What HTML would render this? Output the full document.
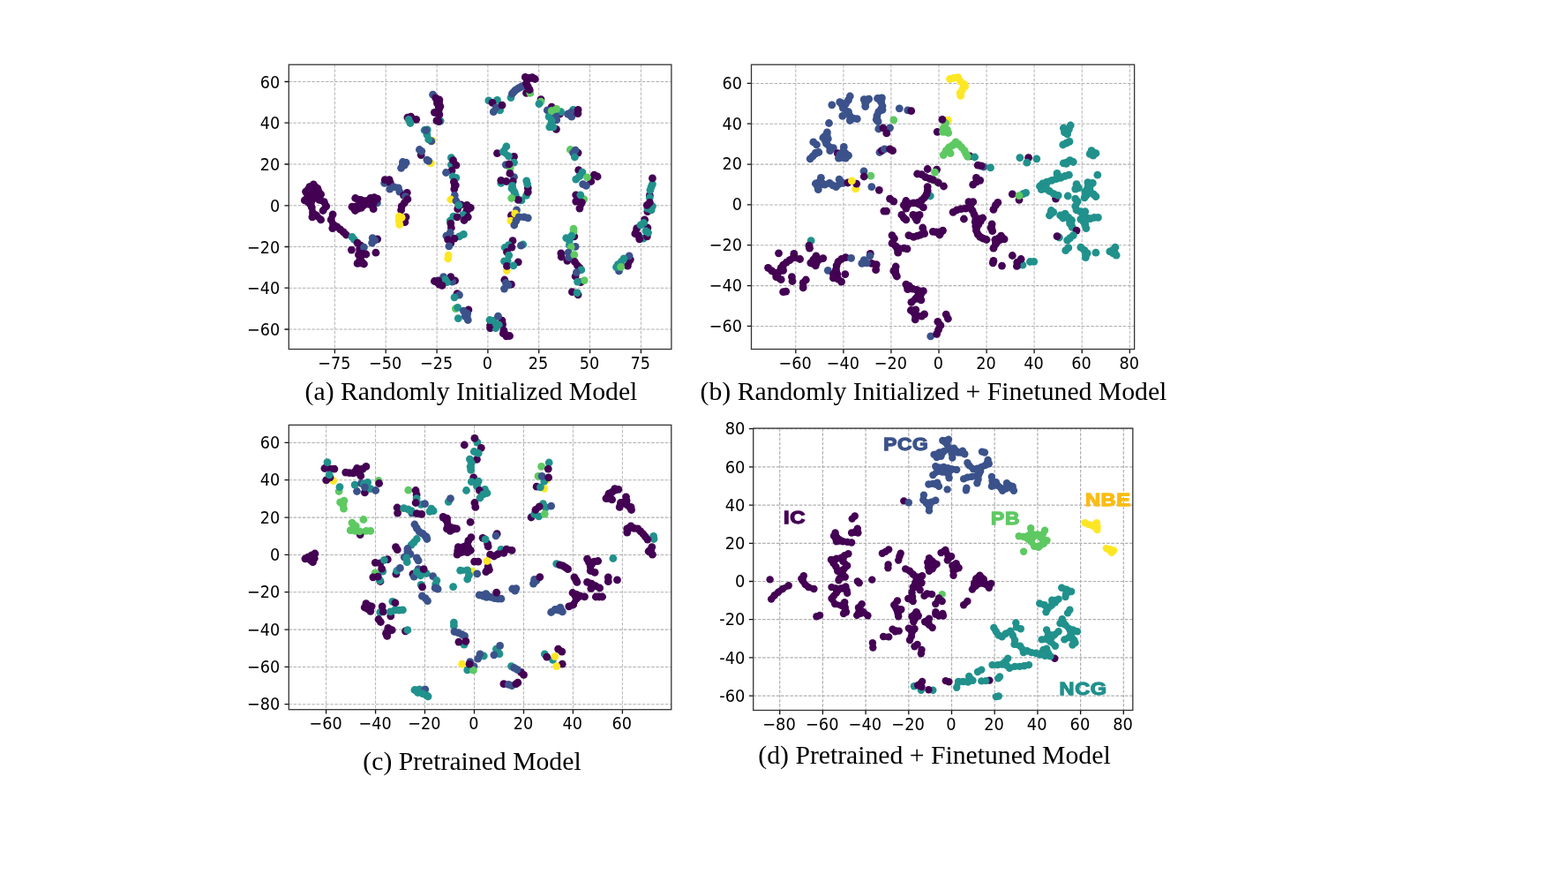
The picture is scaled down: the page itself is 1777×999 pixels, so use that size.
<!DOCTYPE html>
<html lang="en"><head><meta charset="utf-8"><title>t-SNE visualisation</title>
<style>
html,body{margin:0;padding:0;background:#fff;}
body{width:1777px;height:999px;overflow:hidden;}
svg{display:block;}
.grid{fill:none;stroke:#b0b0b0;stroke-width:1.05;stroke-dasharray:3.6 1.6;}
.gv{stroke-width:0.95;}
.tick{fill:none;stroke:#111;stroke-width:1.3;}
.frame{fill:none;stroke:#333;stroke-width:1.3;}
.tl text{font-family:"DejaVu Sans","Liberation Sans",sans-serif;fill:#000;}
.cap text{font-family:"Liberation Serif","Times New Roman",serif;font-size:29.7px;fill:#000;}
.lab text{font-family:"Liberation Sans",Arial,sans-serif;font-weight:bold;font-size:21px;stroke-width:1.3;stroke-linejoin:miter;letter-spacing:0.6px;}
</style></head><body>
<svg width="1777" height="999" viewBox="0 0 1777 999">
<rect width="1777" height="999" fill="#fff"/>
<g class="panel" id="panel-a">
<path d="M379.4 73.2V395.5M437.2 73.2V395.5M495.1 73.2V395.5M552.9 73.2V395.5M610.7 73.2V395.5M668.6 73.2V395.5M726.4 73.2V395.5" class="grid gv"/>
<path d="M327.3 92.5H760.9M327.3 139.2H760.9M327.3 186.0H760.9M327.3 232.8H760.9M327.3 279.5H760.9M327.3 326.2H760.9M327.3 373.0H760.9" class="grid gh"/>
<g class="pts">
<g fill="#21918c"><circle cx="499.2" cy="137.1" r="4.40"/></g>
<g fill="#3b528b"><circle cx="490.6" cy="107.2" r="4.40"/></g>
<g fill="#440154"><circle cx="493.7" cy="110.9" r="4.40"/><circle cx="494.6" cy="113.9" r="3.61"/><circle cx="497.9" cy="113.0" r="4.40"/><circle cx="498.4" cy="116.8" r="3.61"/><circle cx="495.5" cy="117.0" r="4.40"/><circle cx="497.2" cy="118.8" r="3.61"/><circle cx="496.4" cy="120.6" r="3.61"/><circle cx="498.9" cy="120.6" r="4.40"/><circle cx="497.3" cy="124.3" r="4.40"/><circle cx="494.9" cy="125.8" r="3.61"/><circle cx="497.6" cy="127.0" r="3.61"/><circle cx="492.4" cy="127.3" r="4.40"/><circle cx="495.2" cy="128.6" r="3.61"/><circle cx="497.9" cy="129.8" r="4.40"/><circle cx="494.9" cy="136.7" r="4.40"/><circle cx="497.3" cy="137.7" r="4.40"/><circle cx="461.9" cy="133.1" r="4.40"/><circle cx="465.6" cy="132.2" r="4.40"/><circle cx="471.7" cy="135.3" r="4.40"/></g>
<g fill="#21918c"><circle cx="463.1" cy="135.3" r="4.40"/><circle cx="465.0" cy="139.5" r="4.40"/><circle cx="481.1" cy="147.5" r="4.40"/><circle cx="484.3" cy="146.9" r="4.40"/><circle cx="483.9" cy="152.4" r="4.40"/></g>
<g fill="#3b528b"><circle cx="482.7" cy="147.7" r="4.40"/></g>
<g fill="#fde725"><circle cx="490.1" cy="159.3" r="4.40"/></g>
<g fill="#3b528b"><circle cx="488.8" cy="159.9" r="4.40"/></g>
<g fill="#21918c"><circle cx="485.7" cy="157.9" r="4.40"/></g>
<g fill="#440154"><circle cx="477.2" cy="175.6" r="4.40"/></g>
<g fill="#3b528b"><circle cx="475.4" cy="169.5" r="4.40"/><circle cx="477.8" cy="171.3" r="4.40"/></g>
<g fill="#440154"><circle cx="595.3" cy="87.4" r="4.40"/><circle cx="599.3" cy="87.5" r="3.61"/><circle cx="598.9" cy="88.9" r="4.40"/><circle cx="602.6" cy="89.2" r="3.61"/><circle cx="603.2" cy="87.7" r="4.40"/><circle cx="606.3" cy="89.5" r="4.40"/></g>
<g fill="#21918c"><circle cx="579.0" cy="110.6" r="4.40"/></g>
<g fill="#3b528b"><circle cx="580.4" cy="106.2" r="4.40"/><circle cx="583.3" cy="103.5" r="3.61"/><circle cx="581.9" cy="104.5" r="4.40"/><circle cx="584.0" cy="102.7" r="3.61"/><circle cx="583.7" cy="102.5" r="4.40"/><circle cx="586.1" cy="100.9" r="3.61"/><circle cx="586.1" cy="100.8" r="4.40"/><circle cx="588.6" cy="99.4" r="3.61"/><circle cx="589.8" cy="99.1" r="3.61"/><circle cx="588.6" cy="99.3" r="4.40"/><circle cx="591.0" cy="98.0" r="4.40"/><circle cx="593.5" cy="97.4" r="4.40"/></g>
<g fill="#440154"><circle cx="596.5" cy="94.4" r="4.40"/><circle cx="598.3" cy="98.0" r="4.40"/><circle cx="596.5" cy="105.4" r="4.40"/></g>
<g fill="#5ec962"><circle cx="600.8" cy="105.4" r="4.40"/></g>
<g fill="#440154"><circle cx="600.2" cy="101.7" r="4.40"/></g>
<g fill="#21918c"><circle cx="553.8" cy="113.9" r="4.40"/><circle cx="566.6" cy="124.9" r="4.40"/><circle cx="563.5" cy="113.3" r="4.40"/></g>
<g fill="#440154"><circle cx="558.0" cy="116.3" r="4.40"/></g>
<g fill="#3b528b"><circle cx="562.3" cy="121.8" r="4.40"/><circle cx="559.3" cy="126.7" r="4.40"/></g>
<g fill="#440154"><circle cx="569.0" cy="119.2" r="4.40"/><circle cx="613.0" cy="112.7" r="4.40"/></g>
<g fill="#5ec962"><circle cx="613.0" cy="115.1" r="4.40"/></g>
<g fill="#21918c"><circle cx="610.9" cy="117.6" r="4.40"/></g>
<g fill="#440154"><circle cx="625.2" cy="121.2" r="4.40"/><circle cx="634.4" cy="129.2" r="4.40"/></g>
<g fill="#3b528b"><circle cx="620.3" cy="124.9" r="4.40"/></g>
<g fill="#21918c"><circle cx="635.6" cy="126.7" r="4.40"/></g>
<g fill="#3b528b"><circle cx="630.1" cy="131.6" r="4.40"/><circle cx="630.7" cy="135.9" r="4.40"/></g>
<g fill="#21918c"><circle cx="622.1" cy="132.2" r="4.40"/><circle cx="625.2" cy="136.5" r="4.40"/><circle cx="624.0" cy="140.2" r="3.61"/></g>
<g fill="#5ec962"><circle cx="630.7" cy="123.3" r="4.40"/><circle cx="625.2" cy="125.5" r="4.40"/></g>
<g fill="#440154"><circle cx="630.4" cy="146.3" r="4.40"/></g>
<g fill="#21918c"><circle cx="622.8" cy="143.8" r="4.40"/><circle cx="627.0" cy="143.8" r="4.40"/><circle cx="649.6" cy="124.3" r="4.40"/></g>
<g fill="#3b528b"><circle cx="643.5" cy="129.2" r="4.40"/><circle cx="645.6" cy="130.7" r="3.61"/><circle cx="647.8" cy="132.2" r="4.40"/><circle cx="647.2" cy="127.3" r="4.40"/></g>
<g fill="#440154"><circle cx="655.1" cy="124.3" r="4.40"/><circle cx="654.9" cy="128.6" r="4.40"/><circle cx="563.5" cy="173.7" r="4.40"/><circle cx="582.5" cy="177.4" r="4.40"/></g>
<g fill="#21918c"><circle cx="573.9" cy="165.8" r="4.40"/><circle cx="572.1" cy="168.8" r="3.61"/><circle cx="570.3" cy="171.9" r="4.40"/><circle cx="573.3" cy="174.3" r="3.61"/><circle cx="576.4" cy="176.8" r="4.40"/></g>
<g fill="#5ec962"><circle cx="646.3" cy="169.5" r="4.40"/></g>
<g fill="#440154"><circle cx="655.1" cy="173.1" r="4.40"/></g>
<g fill="#3b528b"><circle cx="652.1" cy="170.1" r="4.40"/><circle cx="649.6" cy="173.1" r="4.40"/></g>
<g fill="#21918c"><circle cx="651.4" cy="178.0" r="4.40"/></g>
<g fill="#fde725"><circle cx="488.4" cy="184.8" r="4.40"/></g>
<g fill="#3b528b"><circle cx="485.7" cy="182.3" r="4.40"/><circle cx="483.9" cy="181.1" r="4.40"/><circle cx="456.4" cy="183.5" r="4.40"/><circle cx="455.5" cy="186.9" r="3.61"/><circle cx="460.1" cy="184.2" r="4.40"/><circle cx="454.6" cy="190.3" r="4.40"/><circle cx="458.3" cy="187.2" r="4.40"/></g>
<g fill="#21918c"><circle cx="511.4" cy="178.7" r="4.40"/><circle cx="511.4" cy="186.6" r="4.40"/></g>
<g fill="#440154"><circle cx="513.6" cy="181.7" r="4.40"/><circle cx="516.9" cy="187.2" r="4.40"/><circle cx="512.0" cy="193.3" r="4.40"/></g>
<g fill="#3b528b"><circle cx="505.5" cy="195.5" r="4.40"/></g>
<g fill="#21918c"><circle cx="513.2" cy="200.0" r="4.40"/><circle cx="516.9" cy="201.3" r="4.40"/></g>
<g fill="#440154"><circle cx="514.4" cy="206.1" r="4.40"/><circle cx="514.6" cy="210.1" r="3.61"/><circle cx="516.3" cy="209.8" r="4.40"/><circle cx="514.8" cy="214.1" r="4.40"/></g>
<g fill="#3b528b"><circle cx="515.3" cy="221.4" r="4.40"/></g>
<g fill="#fde725"><circle cx="510.8" cy="226.0" r="4.40"/></g>
<g fill="#3b528b"><circle cx="516.9" cy="227.5" r="4.40"/></g>
<g fill="#440154"><circle cx="522.4" cy="231.8" r="4.40"/><circle cx="529.1" cy="232.4" r="4.40"/><circle cx="531.2" cy="233.9" r="3.61"/><circle cx="528.8" cy="236.1" r="3.61"/><circle cx="533.3" cy="235.4" r="4.40"/><circle cx="530.9" cy="237.6" r="3.61"/><circle cx="518.7" cy="236.7" r="4.40"/><circle cx="528.5" cy="239.7" r="4.40"/></g>
<g fill="#21918c"><circle cx="519.9" cy="232.4" r="4.40"/><circle cx="513.8" cy="245.2" r="4.40"/><circle cx="524.8" cy="243.4" r="4.40"/><circle cx="510.2" cy="250.1" r="4.40"/></g>
<g fill="#440154"><circle cx="518.1" cy="245.8" r="4.40"/><circle cx="530.3" cy="245.8" r="4.40"/><circle cx="526.0" cy="249.5" r="4.40"/><circle cx="510.8" cy="253.1" r="4.40"/><circle cx="511.4" cy="258.0" r="4.40"/></g>
<g fill="#3b528b"><circle cx="510.2" cy="263.5" r="4.40"/><circle cx="505.9" cy="267.2" r="4.40"/></g>
<g fill="#21918c"><circle cx="520.5" cy="267.8" r="4.40"/><circle cx="523.0" cy="266.6" r="3.61"/><circle cx="525.4" cy="265.4" r="4.40"/></g>
<g fill="#440154"><circle cx="507.7" cy="271.5" r="4.40"/><circle cx="515.0" cy="270.2" r="4.40"/><circle cx="510.8" cy="275.7" r="4.40"/></g>
<g fill="#3b528b"><circle cx="508.9" cy="278.8" r="4.40"/></g>
<g fill="#440154"><circle cx="357.5" cy="218.3" r="4.40"/><circle cx="358.7" cy="215.9" r="3.61"/><circle cx="360.6" cy="219.3" r="3.61"/><circle cx="356.9" cy="221.1" r="3.61"/><circle cx="361.8" cy="226.3" r="4.40"/><circle cx="362.7" cy="223.2" r="3.61"/><circle cx="359.1" cy="225.1" r="3.61"/><circle cx="364.5" cy="227.5" r="3.61"/><circle cx="355.3" cy="208.9" r="4.40"/><circle cx="353.1" cy="210.3" r="3.61"/><circle cx="357.6" cy="211.2" r="3.61"/><circle cx="354.9" cy="212.7" r="3.61"/><circle cx="350.8" cy="211.6" r="4.40"/><circle cx="348.7" cy="214.4" r="3.61"/><circle cx="352.6" cy="214.1" r="3.61"/><circle cx="360.0" cy="213.5" r="4.40"/><circle cx="357.2" cy="215.0" r="3.61"/><circle cx="361.8" cy="216.8" r="3.61"/><circle cx="346.5" cy="217.1" r="4.40"/><circle cx="350.5" cy="216.8" r="3.61"/><circle cx="347.8" cy="219.9" r="3.61"/><circle cx="354.5" cy="216.5" r="4.40"/><circle cx="355.4" cy="220.2" r="3.61"/><circle cx="363.6" cy="220.2" r="4.40"/><circle cx="349.0" cy="222.6" r="4.40"/><circle cx="352.6" cy="223.2" r="3.61"/><circle cx="347.1" cy="224.8" r="3.61"/><circle cx="350.8" cy="225.7" r="3.61"/><circle cx="349.3" cy="226.0" r="3.61"/><circle cx="356.3" cy="223.8" r="4.40"/><circle cx="354.5" cy="226.3" r="3.61"/><circle cx="345.3" cy="226.9" r="4.40"/><circle cx="349.0" cy="227.8" r="3.61"/><circle cx="347.5" cy="228.1" r="3.61"/><circle cx="352.6" cy="228.7" r="4.40"/><circle cx="352.9" cy="231.8" r="3.61"/><circle cx="367.3" cy="228.7" r="4.40"/><circle cx="368.5" cy="231.2" r="3.61"/><circle cx="369.7" cy="233.6" r="4.40"/><circle cx="367.9" cy="236.1" r="3.61"/><circle cx="353.3" cy="234.8" r="4.40"/><circle cx="353.9" cy="237.9" r="3.61"/><circle cx="351.4" cy="232.1" r="3.61"/><circle cx="366.1" cy="238.5" r="4.40"/><circle cx="354.5" cy="240.9" r="4.40"/><circle cx="356.6" cy="242.5" r="3.61"/><circle cx="354.2" cy="243.4" r="3.61"/><circle cx="358.7" cy="244.0" r="4.40"/><circle cx="356.3" cy="244.9" r="3.61"/><circle cx="361.2" cy="246.4" r="3.61"/><circle cx="353.9" cy="245.8" r="4.40"/><circle cx="363.6" cy="248.9" r="4.40"/><circle cx="349.6" cy="229.3" r="4.40"/><circle cx="377.1" cy="242.8" r="4.40"/><circle cx="376.1" cy="245.8" r="3.61"/><circle cx="375.2" cy="248.9" r="4.40"/><circle cx="376.5" cy="251.6" r="3.61"/><circle cx="377.7" cy="254.4" r="4.40"/><circle cx="379.8" cy="255.6" r="3.61"/><circle cx="376.8" cy="258.6" r="4.40"/><circle cx="379.4" cy="257.7" r="3.61"/><circle cx="381.9" cy="256.8" r="4.40"/><circle cx="385.6" cy="259.9" r="4.40"/><circle cx="389.3" cy="262.9" r="4.40"/><circle cx="392.3" cy="266.0" r="4.40"/></g>
<g fill="#21918c"><circle cx="399.0" cy="268.4" r="4.40"/><circle cx="401.5" cy="271.5" r="4.40"/></g>
<g fill="#440154"><circle cx="405.1" cy="275.1" r="4.40"/><circle cx="408.8" cy="278.2" r="4.40"/></g>
<g fill="#3b528b"><circle cx="427.4" cy="229.9" r="4.40"/></g>
<g fill="#440154"><circle cx="402.7" cy="224.5" r="4.40"/><circle cx="405.8" cy="225.4" r="3.61"/><circle cx="408.8" cy="226.3" r="4.40"/><circle cx="407.6" cy="229.3" r="3.61"/><circle cx="412.5" cy="226.9" r="3.61"/><circle cx="411.9" cy="228.7" r="3.61"/><circle cx="399.0" cy="234.2" r="4.40"/><circle cx="400.7" cy="236.4" r="3.61"/><circle cx="402.7" cy="233.3" r="3.61"/><circle cx="402.5" cy="238.5" r="4.40"/><circle cx="404.4" cy="235.4" r="3.61"/><circle cx="405.9" cy="237.0" r="3.61"/><circle cx="406.4" cy="232.4" r="4.40"/><circle cx="408.8" cy="230.9" r="3.61"/><circle cx="411.2" cy="229.3" r="4.40"/><circle cx="410.3" cy="232.4" r="3.61"/><circle cx="413.7" cy="228.4" r="3.61"/><circle cx="409.4" cy="235.4" r="4.40"/><circle cx="412.2" cy="233.3" r="3.61"/><circle cx="416.1" cy="227.5" r="4.40"/><circle cx="419.8" cy="228.4" r="3.61"/><circle cx="418.6" cy="229.9" r="3.61"/><circle cx="419.8" cy="224.5" r="4.40"/><circle cx="424.1" cy="223.6" r="4.40"/><circle cx="427.7" cy="225.1" r="4.40"/><circle cx="423.5" cy="229.3" r="4.40"/><circle cx="421.0" cy="232.4" r="4.40"/><circle cx="418.0" cy="231.8" r="3.61"/><circle cx="423.2" cy="236.7" r="4.40"/><circle cx="414.9" cy="231.2" r="4.40"/></g>
<g fill="#3b528b"><circle cx="435.7" cy="207.4" r="4.40"/></g>
<g fill="#440154"><circle cx="436.3" cy="203.7" r="4.40"/><circle cx="441.2" cy="203.7" r="4.40"/><circle cx="442.4" cy="207.4" r="4.40"/></g>
<g fill="#3b528b"><circle cx="441.8" cy="214.1" r="4.40"/><circle cx="446.0" cy="211.6" r="4.40"/><circle cx="448.8" cy="212.2" r="3.61"/><circle cx="451.5" cy="212.9" r="4.40"/><circle cx="452.8" cy="217.1" r="4.40"/></g>
<g fill="#440154"><circle cx="461.3" cy="218.3" r="4.40"/><circle cx="457.6" cy="221.4" r="4.40"/></g>
<g fill="#3b528b"><circle cx="459.5" cy="222.6" r="4.40"/></g>
<g fill="#440154"><circle cx="461.9" cy="225.7" r="4.40"/><circle cx="458.3" cy="229.9" r="4.40"/><circle cx="455.2" cy="233.6" r="4.40"/><circle cx="454.6" cy="237.9" r="4.40"/><circle cx="460.1" cy="245.8" r="4.40"/><circle cx="458.9" cy="251.7" r="4.40"/></g>
<g fill="#fde725"><circle cx="452.2" cy="245.2" r="4.40"/><circle cx="452.2" cy="247.6" r="3.61"/><circle cx="455.2" cy="246.4" r="4.40"/><circle cx="452.2" cy="250.1" r="4.40"/><circle cx="452.8" cy="254.4" r="4.40"/></g>
<g fill="#440154"><circle cx="427.7" cy="270.8" r="4.40"/></g>
<g fill="#3b528b"><circle cx="422.2" cy="269.6" r="4.40"/><circle cx="424.7" cy="272.1" r="4.40"/><circle cx="421.6" cy="275.1" r="4.40"/></g>
<g fill="#21918c"><circle cx="582.5" cy="184.2" r="4.40"/></g>
<g fill="#5ec962"><circle cx="578.2" cy="190.3" r="4.40"/></g>
<g fill="#3b528b"><circle cx="573.3" cy="186.6" r="4.40"/></g>
<g fill="#440154"><circle cx="577.0" cy="186.0" r="4.40"/></g>
<g fill="#3b528b"><circle cx="582.5" cy="200.6" r="4.40"/></g>
<g fill="#440154"><circle cx="577.9" cy="196.4" r="4.40"/></g>
<g fill="#21918c"><circle cx="567.8" cy="207.4" r="4.40"/></g>
<g fill="#440154"><circle cx="567.8" cy="204.3" r="4.40"/><circle cx="573.9" cy="205.5" r="4.40"/><circle cx="581.2" cy="205.5" r="4.40"/></g>
<g fill="#21918c"><circle cx="580.6" cy="210.4" r="4.40"/><circle cx="581.9" cy="214.1" r="3.61"/><circle cx="580.0" cy="213.5" r="4.40"/><circle cx="581.5" cy="215.6" r="3.61"/><circle cx="583.1" cy="217.7" r="4.40"/><circle cx="584.3" cy="221.4" r="4.40"/><circle cx="591.0" cy="226.9" r="4.40"/></g>
<g fill="#440154"><circle cx="587.3" cy="226.3" r="4.40"/></g>
<g fill="#5ec962"><circle cx="579.7" cy="224.5" r="4.40"/></g>
<g fill="#21918c"><circle cx="596.5" cy="221.4" r="4.40"/></g>
<g fill="#440154"><circle cx="598.3" cy="217.7" r="4.40"/><circle cx="598.3" cy="212.9" r="4.40"/></g>
<g fill="#21918c"><circle cx="597.7" cy="208.6" r="4.40"/><circle cx="596.7" cy="204.9" r="4.40"/></g>
<g fill="#3b528b"><circle cx="585.5" cy="237.9" r="4.40"/></g>
<g fill="#440154"><circle cx="579.4" cy="244.0" r="4.40"/></g>
<g fill="#fde725"><circle cx="578.8" cy="250.1" r="4.40"/><circle cx="583.7" cy="241.9" r="4.40"/></g>
<g fill="#3b528b"><circle cx="588.0" cy="245.8" r="4.40"/><circle cx="591.0" cy="245.8" r="3.61"/><circle cx="594.1" cy="245.8" r="4.40"/><circle cx="598.3" cy="246.8" r="4.40"/><circle cx="584.9" cy="250.1" r="4.40"/><circle cx="582.8" cy="255.0" r="4.40"/></g>
<g fill="#440154"><circle cx="581.0" cy="272.7" r="4.40"/></g>
<g fill="#21918c"><circle cx="576.4" cy="277.6" r="4.40"/><circle cx="592.8" cy="277.0" r="4.40"/></g>
<g fill="#3b528b"><circle cx="590.4" cy="278.2" r="4.40"/></g>
<g fill="#440154"><circle cx="655.7" cy="192.7" r="4.40"/><circle cx="669.8" cy="205.5" r="4.40"/></g>
<g fill="#21918c"><circle cx="652.7" cy="203.1" r="4.40"/><circle cx="654.8" cy="201.3" r="3.61"/><circle cx="660.0" cy="195.1" r="4.40"/><circle cx="656.9" cy="199.4" r="4.40"/></g>
<g fill="#440154"><circle cx="673.4" cy="198.2" r="4.40"/><circle cx="677.1" cy="200.0" r="4.40"/></g>
<g fill="#5ec962"><circle cx="665.5" cy="200.9" r="4.40"/></g>
<g fill="#3b528b"><circle cx="660.6" cy="208.6" r="4.40"/><circle cx="664.3" cy="210.4" r="4.40"/></g>
<g fill="#5ec962"><circle cx="661.8" cy="225.7" r="4.40"/></g>
<g fill="#440154"><circle cx="652.7" cy="220.8" r="4.40"/><circle cx="652.7" cy="228.1" r="4.40"/><circle cx="659.4" cy="229.3" r="4.40"/><circle cx="658.2" cy="232.7" r="3.61"/><circle cx="656.9" cy="236.1" r="4.40"/><circle cx="655.7" cy="225.1" r="4.40"/></g>
<g fill="#21918c"><circle cx="657.8" cy="220.8" r="4.40"/></g>
<g fill="#440154"><circle cx="650.8" cy="267.8" r="4.40"/></g>
<g fill="#5ec962"><circle cx="650.0" cy="259.2" r="4.40"/><circle cx="650.0" cy="262.3" r="4.40"/></g>
<g fill="#21918c"><circle cx="647.8" cy="267.2" r="4.40"/><circle cx="641.7" cy="269.6" r="4.40"/><circle cx="645.3" cy="272.7" r="4.40"/></g>
<g fill="#3b528b"><circle cx="652.1" cy="279.4" r="4.40"/></g>
<g fill="#21918c"><circle cx="645.3" cy="277.6" r="4.40"/></g>
<g fill="#5ec962"><circle cx="647.2" cy="280.0" r="4.40"/></g>
<g fill="#440154"><circle cx="736.3" cy="221.4" r="4.40"/></g>
<g fill="#21918c"><circle cx="736.3" cy="223.8" r="4.40"/><circle cx="739.4" cy="208.6" r="4.40"/><circle cx="738.1" cy="211.9" r="3.61"/><circle cx="738.1" cy="211.6" r="4.40"/><circle cx="736.9" cy="215.3" r="4.40"/></g>
<g fill="#440154"><circle cx="739.4" cy="201.9" r="4.40"/><circle cx="733.9" cy="239.7" r="4.40"/></g>
<g fill="#21918c"><circle cx="739.4" cy="233.6" r="4.40"/><circle cx="738.1" cy="237.9" r="4.40"/><circle cx="733.9" cy="236.1" r="4.40"/></g>
<g fill="#440154"><circle cx="736.3" cy="229.3" r="4.40"/><circle cx="733.3" cy="232.4" r="4.40"/><circle cx="730.6" cy="248.9" r="4.40"/><circle cx="733.9" cy="258.0" r="4.40"/></g>
<g fill="#21918c"><circle cx="729.0" cy="270.2" r="4.40"/></g>
<g fill="#440154"><circle cx="733.3" cy="267.8" r="4.40"/><circle cx="721.7" cy="258.6" r="4.40"/><circle cx="720.7" cy="261.7" r="3.61"/><circle cx="719.8" cy="264.7" r="4.40"/><circle cx="723.5" cy="266.6" r="4.40"/><circle cx="724.7" cy="270.8" r="4.40"/></g>
<g fill="#21918c"><circle cx="729.6" cy="252.5" r="4.40"/><circle cx="725.9" cy="255.0" r="4.40"/><circle cx="732.0" cy="261.7" r="4.40"/><circle cx="734.5" cy="263.5" r="4.40"/></g>
<g fill="#440154"><circle cx="398.4" cy="283.1" r="4.40"/><circle cx="407.6" cy="281.9" r="4.40"/><circle cx="407.0" cy="285.2" r="3.61"/></g>
<g fill="#3b528b"><circle cx="412.5" cy="280.1" r="4.40"/></g>
<g fill="#440154"><circle cx="411.2" cy="287.4" r="4.40"/><circle cx="408.8" cy="288.0" r="3.61"/><circle cx="409.7" cy="290.1" r="3.61"/><circle cx="406.4" cy="288.6" r="4.40"/><circle cx="414.9" cy="288.0" r="4.40"/><circle cx="425.9" cy="286.2" r="4.40"/><circle cx="405.1" cy="298.4" r="4.40"/><circle cx="408.8" cy="298.7" r="3.61"/><circle cx="406.7" cy="295.6" r="3.61"/><circle cx="408.8" cy="297.1" r="4.40"/><circle cx="412.5" cy="299.0" r="4.40"/><circle cx="410.3" cy="295.9" r="3.61"/><circle cx="408.2" cy="292.9" r="4.40"/></g>
<g fill="#fde725"><circle cx="508.1" cy="289.2" r="4.40"/><circle cx="507.7" cy="292.9" r="4.40"/></g>
<g fill="#440154"><circle cx="515.6" cy="317.9" r="4.40"/></g>
<g fill="#3b528b"><circle cx="512.6" cy="319.1" r="4.40"/></g>
<g fill="#440154"><circle cx="510.8" cy="313.6" r="4.40"/></g>
<g fill="#3b528b"><circle cx="502.6" cy="313.6" r="4.40"/></g>
<g fill="#21918c"><circle cx="504.7" cy="316.7" r="4.40"/><circle cx="506.5" cy="319.7" r="4.40"/></g>
<g fill="#440154"><circle cx="492.4" cy="318.5" r="4.40"/><circle cx="495.2" cy="320.3" r="3.61"/><circle cx="496.7" cy="317.9" r="4.40"/><circle cx="497.9" cy="322.2" r="4.40"/><circle cx="501.0" cy="323.4" r="4.40"/><circle cx="518.1" cy="332.6" r="4.40"/></g>
<g fill="#3b528b"><circle cx="520.5" cy="334.1" r="4.40"/></g>
<g fill="#21918c"><circle cx="515.0" cy="336.8" r="4.40"/></g>
<g fill="#5ec962"><circle cx="516.3" cy="349.6" r="4.40"/></g>
<g fill="#21918c"><circle cx="518.7" cy="348.4" r="4.40"/></g>
<g fill="#440154"><circle cx="530.9" cy="350.9" r="4.40"/></g>
<g fill="#3b528b"><circle cx="525.4" cy="352.1" r="4.40"/><circle cx="529.7" cy="355.1" r="4.40"/><circle cx="530.0" cy="358.8" r="3.61"/><circle cx="527.2" cy="358.2" r="4.40"/><circle cx="528.8" cy="360.3" r="3.61"/><circle cx="530.3" cy="362.5" r="4.40"/></g>
<g fill="#21918c"><circle cx="519.3" cy="360.6" r="4.40"/><circle cx="572.3" cy="280.4" r="4.40"/></g>
<g fill="#440154"><circle cx="580.0" cy="280.1" r="4.40"/></g>
<g fill="#fde725"><circle cx="574.3" cy="306.3" r="4.40"/></g>
<g fill="#440154"><circle cx="574.5" cy="285.5" r="4.40"/><circle cx="587.3" cy="296.8" r="4.40"/></g>
<g fill="#21918c"><circle cx="571.5" cy="295.9" r="4.40"/><circle cx="575.1" cy="295.3" r="4.40"/><circle cx="576.7" cy="289.2" r="4.40"/></g>
<g fill="#440154"><circle cx="574.5" cy="301.4" r="4.40"/></g>
<g fill="#21918c"><circle cx="581.9" cy="300.8" r="4.40"/></g>
<g fill="#440154"><circle cx="579.4" cy="322.2" r="4.40"/><circle cx="571.8" cy="317.0" r="4.40"/></g>
<g fill="#3b528b"><circle cx="573.3" cy="320.3" r="4.40"/><circle cx="576.0" cy="322.8" r="4.40"/><circle cx="571.5" cy="327.1" r="4.40"/></g>
<g fill="#440154"><circle cx="569.0" cy="363.1" r="4.40"/><circle cx="569.6" cy="367.4" r="4.40"/><circle cx="555.6" cy="371.6" r="4.40"/></g>
<g fill="#21918c"><circle cx="561.7" cy="371.6" r="4.40"/></g>
<g fill="#440154"><circle cx="555.6" cy="368.6" r="4.40"/></g>
<g fill="#21918c"><circle cx="555.0" cy="362.5" r="4.40"/><circle cx="559.3" cy="363.1" r="4.40"/><circle cx="562.3" cy="367.4" r="4.40"/><circle cx="565.4" cy="368.0" r="4.40"/></g>
<g fill="#3b528b"><circle cx="564.5" cy="358.2" r="4.40"/></g>
<g fill="#440154"><circle cx="570.9" cy="374.1" r="4.40"/><circle cx="572.4" cy="377.4" r="3.61"/><circle cx="570.3" cy="377.7" r="4.40"/><circle cx="573.9" cy="379.1" r="3.61"/><circle cx="573.9" cy="380.8" r="4.40"/><circle cx="577.6" cy="380.5" r="4.40"/><circle cx="635.8" cy="286.8" r="4.40"/><circle cx="636.2" cy="291.0" r="4.40"/><circle cx="642.9" cy="295.3" r="4.40"/></g>
<g fill="#3b528b"><circle cx="644.1" cy="286.2" r="4.40"/><circle cx="644.7" cy="291.7" r="4.40"/></g>
<g fill="#5ec962"><circle cx="650.8" cy="288.6" r="4.40"/></g>
<g fill="#440154"><circle cx="651.4" cy="296.5" r="4.40"/><circle cx="653.0" cy="298.7" r="3.61"/><circle cx="654.5" cy="300.8" r="4.40"/><circle cx="656.9" cy="303.3" r="4.40"/></g>
<g fill="#21918c"><circle cx="658.8" cy="305.7" r="4.40"/></g>
<g fill="#440154"><circle cx="652.1" cy="313.0" r="4.40"/></g>
<g fill="#3b528b"><circle cx="653.3" cy="308.7" r="4.40"/></g>
<g fill="#440154"><circle cx="658.2" cy="319.7" r="4.40"/></g>
<g fill="#5ec962"><circle cx="662.2" cy="317.7" r="4.40"/></g>
<g fill="#21918c"><circle cx="654.5" cy="319.1" r="4.40"/></g>
<g fill="#440154"><circle cx="648.4" cy="330.7" r="4.40"/><circle cx="655.1" cy="333.8" r="4.40"/></g>
<g fill="#21918c"><circle cx="654.1" cy="331.7" r="4.40"/></g>
<g fill="#440154"><circle cx="714.3" cy="294.1" r="4.40"/><circle cx="712.8" cy="297.6" r="3.61"/></g>
<g fill="#3b528b"><circle cx="713.1" cy="289.8" r="4.40"/><circle cx="701.5" cy="306.9" r="4.40"/></g>
<g fill="#440154"><circle cx="711.3" cy="301.2" r="4.40"/></g>
<g fill="#21918c"><circle cx="707.0" cy="292.9" r="4.40"/><circle cx="704.0" cy="296.5" r="4.40"/><circle cx="700.3" cy="299.6" r="4.40"/><circle cx="698.5" cy="302.6" r="4.40"/></g>
<g fill="#5ec962"><circle cx="703.7" cy="302.4" r="4.40"/></g>
</g>
<path d="M379.4 395.5v4.8M437.2 395.5v4.8M495.1 395.5v4.8M552.9 395.5v4.8M610.7 395.5v4.8M668.6 395.5v4.8M726.4 395.5v4.8M327.3 92.5h-4.8M327.3 139.2h-4.8M327.3 186.0h-4.8M327.3 232.8h-4.8M327.3 279.5h-4.8M327.3 326.2h-4.8M327.3 373.0h-4.8" class="tick"/>
<rect x="327.3" y="73.2" width="433.6" height="322.3" class="frame"/>
<g class="tl" font-size="19.4">
<text transform="translate(378.8 417.8) scale(0.91 1)" text-anchor="middle">−75</text>
<text transform="translate(436.6 417.8) scale(0.91 1)" text-anchor="middle">−50</text>
<text transform="translate(494.5 417.8) scale(0.91 1)" text-anchor="middle">−25</text>
<text transform="translate(552.3 417.8) scale(0.91 1)" text-anchor="middle">0</text>
<text transform="translate(610.1 417.8) scale(0.91 1)" text-anchor="middle">25</text>
<text transform="translate(668.0 417.8) scale(0.91 1)" text-anchor="middle">50</text>
<text transform="translate(725.8 417.8) scale(0.91 1)" text-anchor="middle">75</text>
<text transform="translate(317.3 99.7) scale(0.91 1)" text-anchor="end">60</text>
<text transform="translate(317.3 146.4) scale(0.91 1)" text-anchor="end">40</text>
<text transform="translate(317.3 193.2) scale(0.91 1)" text-anchor="end">20</text>
<text transform="translate(317.3 239.9) scale(0.91 1)" text-anchor="end">0</text>
<text transform="translate(317.3 286.7) scale(0.91 1)" text-anchor="end">−20</text>
<text transform="translate(317.3 333.4) scale(0.91 1)" text-anchor="end">−40</text>
<text transform="translate(317.3 380.2) scale(0.91 1)" text-anchor="end">−60</text>
</g></g>
<g class="panel" id="panel-b">
<path d="M901.8 73.2V395.5M955.9 73.2V395.5M1009.9 73.2V395.5M1064.0 73.2V395.5M1118.1 73.2V395.5M1172.1 73.2V395.5M1226.2 73.2V395.5M1280.3 73.2V395.5" class="grid gv"/>
<path d="M851.5 94.4H1285.6M851.5 140.2H1285.6M851.5 186.1H1285.6M851.5 231.9H1285.6M851.5 277.7H1285.6M851.5 323.6H1285.6M851.5 369.4H1285.6" class="grid gh"/>
<g class="pts">
<g fill="#3b528b"><circle cx="942.8" cy="118.8" r="4.40"/><circle cx="951.7" cy="115.7" r="4.40"/><circle cx="955.1" cy="116.7" r="3.61"/><circle cx="953.6" cy="119.1" r="3.61"/><circle cx="963.3" cy="109.0" r="4.40"/><circle cx="961.5" cy="113.3" r="4.40"/><circle cx="960.0" cy="115.4" r="3.61"/><circle cx="958.4" cy="117.6" r="4.40"/><circle cx="956.9" cy="120.0" r="3.61"/><circle cx="955.4" cy="122.5" r="4.40"/><circle cx="958.4" cy="124.6" r="3.61"/><circle cx="961.5" cy="126.7" r="4.40"/><circle cx="962.4" cy="129.2" r="3.61"/><circle cx="954.8" cy="131.4" r="4.40"/><circle cx="963.3" cy="131.6" r="4.40"/><circle cx="963.3" cy="134.1" r="3.61"/><circle cx="967.0" cy="134.1" r="4.40"/><circle cx="971.3" cy="134.7" r="4.40"/><circle cx="963.3" cy="136.5" r="4.40"/><circle cx="979.2" cy="112.7" r="4.40"/><circle cx="982.0" cy="112.4" r="3.61"/><circle cx="979.9" cy="116.7" r="3.61"/><circle cx="984.7" cy="112.1" r="4.40"/><circle cx="982.9" cy="114.2" r="3.61"/><circle cx="980.7" cy="120.6" r="4.40"/><circle cx="981.0" cy="116.3" r="4.40"/><circle cx="994.5" cy="111.5" r="4.40"/><circle cx="996.9" cy="111.2" r="3.61"/><circle cx="996.6" cy="113.6" r="3.61"/><circle cx="999.4" cy="110.9" r="4.40"/><circle cx="999.0" cy="113.3" r="3.61"/><circle cx="998.7" cy="115.7" r="4.40"/><circle cx="1000.0" cy="120.0" r="4.40"/><circle cx="997.8" cy="123.4" r="3.61"/><circle cx="1000.0" cy="124.3" r="4.40"/><circle cx="997.8" cy="125.5" r="3.61"/><circle cx="995.7" cy="126.7" r="4.40"/><circle cx="993.9" cy="131.0" r="4.40"/><circle cx="994.5" cy="134.4" r="3.61"/><circle cx="993.2" cy="135.3" r="4.40"/><circle cx="995.1" cy="137.7" r="4.40"/><circle cx="1019.3" cy="122.8" r="4.40"/><circle cx="1028.7" cy="124.9" r="4.40"/></g>
<g fill="#440154"><circle cx="1032.7" cy="125.7" r="4.40"/></g>
<g fill="#5ec962"><circle cx="1012.8" cy="135.9" r="4.40"/></g>
<g fill="#3b528b"><circle cx="939.5" cy="139.5" r="4.40"/><circle cx="995.7" cy="146.0" r="4.40"/><circle cx="1008.5" cy="144.8" r="4.40"/></g>
<g fill="#440154"><circle cx="1000.9" cy="145.0" r="4.40"/><circle cx="1004.8" cy="150.9" r="4.40"/></g>
<g fill="#3b528b"><circle cx="937.4" cy="149.9" r="4.40"/><circle cx="935.1" cy="153.0" r="3.61"/><circle cx="937.9" cy="153.6" r="3.61"/><circle cx="932.8" cy="156.0" r="4.40"/><circle cx="935.6" cy="156.6" r="3.61"/><circle cx="934.6" cy="159.4" r="3.61"/><circle cx="938.3" cy="157.2" r="4.40"/><circle cx="937.4" cy="160.0" r="3.61"/><circle cx="921.8" cy="160.9" r="4.40"/><circle cx="925.5" cy="164.0" r="4.40"/><circle cx="936.5" cy="162.7" r="4.40"/><circle cx="938.6" cy="164.9" r="3.61"/><circle cx="940.7" cy="167.0" r="4.40"/><circle cx="944.4" cy="167.6" r="4.40"/><circle cx="940.7" cy="170.7" r="4.40"/><circle cx="924.3" cy="173.1" r="4.40"/><circle cx="927.9" cy="172.5" r="4.40"/><circle cx="924.6" cy="174.6" r="3.61"/><circle cx="921.2" cy="176.8" r="4.40"/><circle cx="918.2" cy="179.8" r="4.40"/></g>
<g fill="#440154"><circle cx="949.3" cy="173.7" r="4.40"/></g>
<g fill="#3b528b"><circle cx="956.3" cy="166.4" r="4.40"/><circle cx="956.0" cy="170.7" r="4.40"/><circle cx="958.8" cy="173.4" r="3.61"/><circle cx="951.7" cy="175.0" r="4.40"/><circle cx="961.5" cy="176.2" r="4.40"/><circle cx="950.5" cy="179.2" r="4.40"/><circle cx="954.5" cy="179.2" r="3.61"/><circle cx="958.4" cy="179.2" r="4.40"/><circle cx="996.9" cy="172.5" r="4.40"/></g>
<g fill="#440154"><circle cx="999.4" cy="170.7" r="4.40"/></g>
<g fill="#3b528b"><circle cx="1002.4" cy="168.8" r="4.40"/></g>
<g fill="#440154"><circle cx="1008.5" cy="168.8" r="4.40"/><circle cx="1011.6" cy="170.7" r="4.40"/></g>
<g fill="#fde725"><circle cx="1076.5" cy="89.5" r="4.40"/><circle cx="1080.8" cy="88.3" r="4.40"/><circle cx="1083.2" cy="88.0" r="3.61"/><circle cx="1085.6" cy="87.7" r="4.40"/><circle cx="1087.2" cy="90.1" r="3.61"/><circle cx="1088.7" cy="92.5" r="4.40"/><circle cx="1090.8" cy="94.1" r="3.61"/><circle cx="1091.1" cy="95.3" r="3.61"/><circle cx="1093.0" cy="95.6" r="4.40"/><circle cx="1091.7" cy="98.6" r="3.61"/><circle cx="1093.6" cy="98.0" r="4.40"/><circle cx="1090.5" cy="101.7" r="4.40"/><circle cx="1089.6" cy="105.1" r="3.61"/><circle cx="1088.1" cy="105.4" r="4.40"/><circle cx="1088.7" cy="108.4" r="4.40"/><circle cx="1074.4" cy="136.2" r="4.40"/></g>
<g fill="#5ec962"><circle cx="1071.6" cy="139.5" r="4.40"/></g>
<g fill="#440154"><circle cx="1067.9" cy="135.3" r="4.40"/><circle cx="1062.2" cy="149.3" r="4.40"/></g>
<g fill="#5ec962"><circle cx="1069.2" cy="145.0" r="4.40"/><circle cx="1071.9" cy="147.8" r="3.61"/><circle cx="1073.4" cy="146.9" r="4.40"/><circle cx="1071.0" cy="148.1" r="3.61"/><circle cx="1068.5" cy="149.3" r="4.40"/><circle cx="1071.6" cy="149.9" r="3.61"/><circle cx="1074.7" cy="150.5" r="4.40"/></g>
<g fill="#440154"><circle cx="1099.1" cy="176.8" r="4.40"/></g>
<g fill="#5ec962"><circle cx="1083.2" cy="160.9" r="4.40"/><circle cx="1081.4" cy="162.7" r="3.61"/><circle cx="1086.3" cy="163.4" r="4.40"/><circle cx="1082.9" cy="164.0" r="3.61"/><circle cx="1088.1" cy="165.2" r="3.61"/><circle cx="1079.5" cy="164.6" r="4.40"/><circle cx="1077.4" cy="165.8" r="3.61"/><circle cx="1075.3" cy="167.0" r="4.40"/><circle cx="1076.2" cy="170.4" r="3.61"/><circle cx="1089.9" cy="167.0" r="4.40"/><circle cx="1072.2" cy="170.7" r="4.40"/><circle cx="1074.7" cy="172.2" r="3.61"/><circle cx="1070.7" cy="173.1" r="3.61"/><circle cx="1093.0" cy="170.7" r="4.40"/><circle cx="1077.1" cy="173.7" r="4.40"/><circle cx="1069.2" cy="175.6" r="4.40"/><circle cx="1094.8" cy="174.3" r="4.40"/><circle cx="1096.6" cy="177.4" r="4.40"/></g>
<g fill="#21918c"><circle cx="1104.6" cy="178.0" r="4.40"/><circle cx="1155.8" cy="178.6" r="4.40"/><circle cx="1174.8" cy="179.8" r="4.40"/></g>
<g fill="#440154"><circle cx="1165.6" cy="178.6" r="4.40"/></g>
<g fill="#21918c"><circle cx="1213.2" cy="142.0" r="4.40"/><circle cx="1205.3" cy="145.0" r="4.40"/><circle cx="1208.4" cy="145.6" r="3.61"/><circle cx="1205.9" cy="147.5" r="3.61"/><circle cx="1207.4" cy="148.4" r="3.61"/><circle cx="1211.4" cy="146.3" r="4.40"/><circle cx="1209.0" cy="148.1" r="3.61"/><circle cx="1210.5" cy="149.0" r="3.61"/><circle cx="1206.5" cy="149.9" r="4.40"/><circle cx="1209.6" cy="151.8" r="4.40"/><circle cx="1212.0" cy="160.3" r="4.40"/><circle cx="1208.4" cy="162.1" r="4.40"/><circle cx="1204.7" cy="164.0" r="4.40"/><circle cx="1237.0" cy="170.7" r="4.40"/><circle cx="1239.5" cy="172.2" r="3.61"/><circle cx="1238.0" cy="173.4" r="3.61"/><circle cx="1241.9" cy="173.7" r="4.40"/><circle cx="1238.6" cy="174.0" r="3.61"/><circle cx="1235.2" cy="174.3" r="4.40"/><circle cx="1238.9" cy="176.2" r="4.40"/></g>
<g fill="#3b528b"><circle cx="930.4" cy="201.3" r="4.40"/><circle cx="929.8" cy="204.9" r="3.61"/><circle cx="951.1" cy="203.1" r="4.40"/><circle cx="951.4" cy="205.5" r="3.61"/><circle cx="953.3" cy="205.2" r="3.61"/><circle cx="924.3" cy="208.0" r="4.40"/><circle cx="926.7" cy="208.3" r="3.61"/><circle cx="925.8" cy="211.3" r="3.61"/><circle cx="927.0" cy="206.4" r="3.61"/><circle cx="929.1" cy="208.6" r="4.40"/><circle cx="931.9" cy="208.9" r="3.61"/><circle cx="928.2" cy="211.6" r="3.61"/><circle cx="934.6" cy="209.2" r="4.40"/><circle cx="937.4" cy="208.3" r="3.61"/><circle cx="932.2" cy="207.1" r="3.61"/><circle cx="940.1" cy="207.4" r="4.40"/><circle cx="943.8" cy="209.8" r="4.40"/><circle cx="947.5" cy="211.6" r="4.40"/><circle cx="949.6" cy="209.8" r="3.61"/><circle cx="951.7" cy="208.0" r="4.40"/><circle cx="955.4" cy="207.4" r="4.40"/><circle cx="927.3" cy="214.7" r="4.40"/><circle cx="929.8" cy="204.9" r="4.40"/></g>
<g fill="#440154"><circle cx="960.9" cy="207.0" r="4.40"/></g>
<g fill="#fde725"><circle cx="969.7" cy="213.8" r="4.40"/></g>
<g fill="#440154"><circle cx="970.7" cy="208.2" r="4.40"/></g>
<g fill="#fde725"><circle cx="965.4" cy="204.9" r="4.40"/></g>
<g fill="#5ec962"><circle cx="986.8" cy="199.2" r="4.40"/></g>
<g fill="#3b528b"><circle cx="979.0" cy="193.9" r="4.40"/></g>
<g fill="#440154"><circle cx="979.2" cy="200.0" r="4.40"/></g>
<g fill="#3b528b"><circle cx="987.8" cy="211.6" r="4.40"/></g>
<g fill="#440154"><circle cx="996.3" cy="215.3" r="4.40"/><circle cx="1008.5" cy="225.1" r="4.40"/><circle cx="1010.6" cy="226.6" r="3.61"/><circle cx="1012.8" cy="228.1" r="4.40"/><circle cx="1001.8" cy="239.1" r="4.40"/><circle cx="1004.6" cy="239.1" r="4.40"/><circle cx="1061.6" cy="192.1" r="4.40"/></g>
<g fill="#5ec962"><circle cx="1059.5" cy="195.1" r="4.40"/><circle cx="1061.0" cy="205.5" r="4.40"/></g>
<g fill="#440154"><circle cx="1051.2" cy="191.5" r="4.40"/><circle cx="1039.6" cy="197.0" r="4.40"/><circle cx="1042.1" cy="197.3" r="3.61"/><circle cx="1044.5" cy="197.6" r="4.40"/><circle cx="1046.7" cy="199.1" r="3.61"/><circle cx="1048.8" cy="200.6" r="4.40"/><circle cx="1051.2" cy="201.6" r="3.61"/><circle cx="1053.7" cy="202.5" r="4.40"/><circle cx="1057.3" cy="203.7" r="4.40"/><circle cx="1063.5" cy="207.0" r="4.40"/></g>
<g fill="#21918c"><circle cx="1054.3" cy="222.0" r="4.40"/></g>
<g fill="#440154"><circle cx="1051.2" cy="211.6" r="4.40"/><circle cx="1051.2" cy="215.9" r="4.40"/><circle cx="1050.0" cy="220.2" r="4.40"/><circle cx="1047.6" cy="223.8" r="4.40"/><circle cx="1044.5" cy="226.9" r="4.40"/><circle cx="1042.4" cy="228.1" r="3.61"/><circle cx="1043.0" cy="229.0" r="3.61"/><circle cx="1040.3" cy="229.3" r="4.40"/><circle cx="1037.8" cy="229.6" r="3.61"/><circle cx="1035.4" cy="229.9" r="4.40"/><circle cx="1032.9" cy="230.3" r="3.61"/><circle cx="1038.4" cy="230.6" r="3.61"/><circle cx="1026.8" cy="227.5" r="4.40"/><circle cx="1025.6" cy="229.9" r="3.61"/><circle cx="1030.5" cy="230.6" r="4.40"/><circle cx="1027.4" cy="231.5" r="3.61"/><circle cx="1028.7" cy="233.3" r="3.61"/><circle cx="1024.4" cy="232.4" r="4.40"/><circle cx="1026.8" cy="236.1" r="4.40"/><circle cx="1046.4" cy="234.8" r="4.40"/><circle cx="1043.9" cy="233.0" r="3.61"/><circle cx="1041.5" cy="231.2" r="4.40"/><circle cx="1021.9" cy="243.4" r="4.40"/><circle cx="1024.4" cy="246.1" r="3.61"/><circle cx="1024.4" cy="247.0" r="4.40"/><circle cx="1026.8" cy="248.9" r="4.40"/><circle cx="1034.8" cy="243.4" r="4.40"/><circle cx="1038.4" cy="243.4" r="3.61"/><circle cx="1036.9" cy="246.4" r="3.61"/><circle cx="1042.1" cy="243.4" r="4.40"/><circle cx="1039.9" cy="245.2" r="3.61"/><circle cx="1040.6" cy="246.4" r="3.61"/><circle cx="1037.8" cy="247.0" r="4.40"/><circle cx="1039.0" cy="249.5" r="4.40"/><circle cx="1045.7" cy="258.0" r="4.40"/><circle cx="1046.7" cy="261.4" r="3.61"/><circle cx="1047.6" cy="264.7" r="4.40"/><circle cx="1043.3" cy="266.0" r="4.40"/><circle cx="1039.6" cy="267.2" r="4.40"/><circle cx="1035.4" cy="268.4" r="4.40"/><circle cx="1032.6" cy="267.5" r="3.61"/><circle cx="1029.9" cy="266.6" r="4.40"/><circle cx="1057.3" cy="262.3" r="4.40"/><circle cx="1011.0" cy="266.6" r="4.40"/><circle cx="1013.4" cy="270.2" r="4.40"/><circle cx="1012.2" cy="273.0" r="3.61"/><circle cx="1011.0" cy="275.7" r="4.40"/><circle cx="1013.1" cy="277.3" r="3.61"/><circle cx="1015.2" cy="278.8" r="4.40"/><circle cx="1017.4" cy="280.3" r="3.61"/><circle cx="1016.4" cy="282.5" r="3.61"/><circle cx="1019.5" cy="281.8" r="4.40"/><circle cx="1021.9" cy="281.5" r="3.61"/><circle cx="1024.4" cy="281.2" r="4.40"/><circle cx="1028.0" cy="281.8" r="4.40"/></g>
<g fill="#21918c"><circle cx="919.1" cy="272.7" r="4.40"/></g>
<g fill="#440154"><circle cx="916.9" cy="278.2" r="4.40"/><circle cx="917.5" cy="281.2" r="4.40"/><circle cx="1069.5" cy="211.0" r="4.40"/><circle cx="1068.5" cy="261.1" r="4.40"/><circle cx="1066.7" cy="263.5" r="3.61"/><circle cx="1064.9" cy="262.0" r="3.61"/><circle cx="1064.9" cy="266.0" r="4.40"/><circle cx="1061.2" cy="262.9" r="4.40"/></g>
<g fill="#21918c"><circle cx="1163.8" cy="184.2" r="4.40"/><circle cx="1205.3" cy="184.8" r="4.40"/><circle cx="1209.0" cy="183.2" r="3.61"/><circle cx="1212.6" cy="181.7" r="4.40"/><circle cx="1210.5" cy="183.5" r="3.61"/><circle cx="1216.3" cy="183.5" r="4.40"/><circle cx="1208.4" cy="185.4" r="4.40"/></g>
<g fill="#3b528b"><circle cx="1114.9" cy="189.0" r="4.40"/></g>
<g fill="#440154"><circle cx="1108.2" cy="187.2" r="4.40"/><circle cx="1111.9" cy="187.8" r="4.40"/></g>
<g fill="#21918c"><circle cx="1122.5" cy="189.9" r="4.40"/></g>
<g fill="#440154"><circle cx="1106.4" cy="201.3" r="4.40"/><circle cx="1108.5" cy="202.8" r="3.61"/><circle cx="1106.4" cy="203.7" r="3.61"/><circle cx="1110.7" cy="204.3" r="4.40"/><circle cx="1106.4" cy="206.1" r="4.40"/><circle cx="1102.7" cy="209.2" r="4.40"/><circle cx="1147.3" cy="219.9" r="4.40"/><circle cx="1155.0" cy="226.3" r="4.40"/></g>
<g fill="#21918c"><circle cx="1162.6" cy="218.3" r="4.40"/><circle cx="1159.5" cy="219.6" r="4.40"/></g>
<g fill="#5ec962"><circle cx="1155.0" cy="221.6" r="4.40"/></g>
<g fill="#440154"><circle cx="1130.8" cy="229.3" r="4.40"/><circle cx="1128.4" cy="232.4" r="4.40"/><circle cx="1127.2" cy="234.8" r="3.61"/><circle cx="1125.9" cy="237.3" r="4.40"/><circle cx="1097.9" cy="228.7" r="4.40"/><circle cx="1100.3" cy="228.7" r="3.61"/><circle cx="1098.5" cy="232.1" r="3.61"/><circle cx="1102.7" cy="228.7" r="4.40"/><circle cx="1100.9" cy="232.1" r="3.61"/><circle cx="1080.1" cy="240.3" r="4.40"/><circle cx="1082.3" cy="239.1" r="3.61"/><circle cx="1084.4" cy="237.9" r="4.40"/><circle cx="1086.9" cy="237.3" r="3.61"/><circle cx="1089.3" cy="236.7" r="4.40"/><circle cx="1091.7" cy="236.4" r="3.61"/><circle cx="1094.2" cy="236.1" r="4.40"/><circle cx="1096.6" cy="235.7" r="3.61"/><circle cx="1099.1" cy="235.4" r="4.40"/><circle cx="1102.1" cy="238.5" r="4.40"/><circle cx="1104.0" cy="242.8" r="4.40"/><circle cx="1105.8" cy="247.0" r="4.40"/><circle cx="1109.8" cy="247.0" r="3.61"/><circle cx="1108.5" cy="248.9" r="3.61"/><circle cx="1107.3" cy="250.7" r="3.61"/><circle cx="1105.2" cy="251.3" r="4.40"/><circle cx="1105.5" cy="253.8" r="3.61"/><circle cx="1108.2" cy="251.0" r="3.61"/><circle cx="1105.8" cy="256.2" r="4.40"/><circle cx="1106.1" cy="258.6" r="3.61"/><circle cx="1108.5" cy="253.4" r="3.61"/><circle cx="1106.4" cy="261.1" r="4.40"/><circle cx="1107.6" cy="257.7" r="3.61"/><circle cx="1108.2" cy="265.4" r="4.40"/><circle cx="1111.3" cy="267.8" r="3.61"/><circle cx="1110.7" cy="268.4" r="4.40"/><circle cx="1114.3" cy="269.9" r="3.61"/><circle cx="1114.3" cy="270.2" r="4.40"/><circle cx="1118.0" cy="271.5" r="4.40"/><circle cx="1113.7" cy="247.0" r="4.40"/><circle cx="1111.3" cy="250.7" r="4.40"/><circle cx="1108.8" cy="254.4" r="4.40"/><circle cx="1092.4" cy="248.0" r="4.40"/><circle cx="1124.1" cy="253.8" r="4.40"/><circle cx="1124.4" cy="257.7" r="3.61"/><circle cx="1124.7" cy="261.7" r="4.40"/><circle cx="1122.9" cy="258.0" r="4.40"/><circle cx="1134.5" cy="267.2" r="4.40"/><circle cx="1136.3" cy="269.0" r="3.61"/><circle cx="1131.1" cy="269.3" r="3.61"/><circle cx="1132.6" cy="269.9" r="3.61"/><circle cx="1138.1" cy="270.8" r="4.40"/><circle cx="1134.5" cy="271.8" r="3.61"/><circle cx="1135.7" cy="271.2" r="3.61"/><circle cx="1127.8" cy="271.5" r="4.40"/><circle cx="1128.1" cy="273.9" r="3.61"/><circle cx="1130.5" cy="271.5" r="3.61"/><circle cx="1130.8" cy="272.7" r="4.40"/><circle cx="1128.4" cy="276.3" r="4.40"/><circle cx="1127.2" cy="278.8" r="3.61"/><circle cx="1130.8" cy="273.9" r="3.61"/><circle cx="1125.9" cy="281.2" r="4.40"/><circle cx="1133.3" cy="271.5" r="4.40"/><circle cx="1196.5" cy="225.1" r="4.40"/></g>
<g fill="#21918c"><circle cx="1198.0" cy="196.4" r="4.40"/><circle cx="1200.1" cy="198.8" r="3.61"/><circle cx="1197.7" cy="199.4" r="3.61"/><circle cx="1211.4" cy="198.2" r="4.40"/><circle cx="1207.1" cy="199.4" r="4.40"/><circle cx="1204.7" cy="200.3" r="3.61"/><circle cx="1202.2" cy="201.3" r="4.40"/><circle cx="1199.8" cy="201.9" r="3.61"/><circle cx="1197.4" cy="202.5" r="4.40"/><circle cx="1194.6" cy="203.4" r="3.61"/><circle cx="1191.9" cy="204.3" r="4.40"/><circle cx="1189.1" cy="205.2" r="3.61"/><circle cx="1186.4" cy="206.1" r="4.40"/><circle cx="1183.9" cy="207.1" r="3.61"/><circle cx="1186.1" cy="210.1" r="3.61"/><circle cx="1181.5" cy="208.0" r="4.40"/><circle cx="1180.9" cy="211.3" r="3.61"/><circle cx="1183.6" cy="211.0" r="3.61"/><circle cx="1178.4" cy="211.0" r="4.40"/><circle cx="1182.1" cy="212.5" r="3.61"/><circle cx="1180.3" cy="214.7" r="4.40"/><circle cx="1183.0" cy="214.4" r="3.61"/><circle cx="1185.8" cy="214.1" r="4.40"/><circle cx="1189.4" cy="216.5" r="4.40"/><circle cx="1191.9" cy="218.0" r="3.61"/><circle cx="1194.3" cy="219.6" r="4.40"/><circle cx="1199.2" cy="221.4" r="4.40"/><circle cx="1210.2" cy="222.0" r="4.40"/><circle cx="1218.7" cy="225.1" r="4.40"/><circle cx="1221.2" cy="228.1" r="4.40"/><circle cx="1220.0" cy="230.9" r="3.61"/><circle cx="1243.8" cy="198.2" r="4.40"/><circle cx="1220.0" cy="208.6" r="4.40"/><circle cx="1219.3" cy="211.3" r="3.61"/><circle cx="1221.2" cy="210.7" r="3.61"/><circle cx="1218.7" cy="214.1" r="4.40"/><circle cx="1222.4" cy="212.9" r="4.40"/><circle cx="1232.8" cy="206.7" r="4.40"/><circle cx="1235.5" cy="207.1" r="3.61"/><circle cx="1234.0" cy="208.9" r="3.61"/><circle cx="1232.5" cy="210.4" r="3.61"/><circle cx="1238.3" cy="207.4" r="4.40"/><circle cx="1235.2" cy="211.0" r="4.40"/><circle cx="1235.5" cy="214.4" r="3.61"/><circle cx="1232.2" cy="214.1" r="4.40"/><circle cx="1234.0" cy="215.9" r="3.61"/><circle cx="1231.6" cy="217.7" r="3.61"/><circle cx="1229.7" cy="217.1" r="4.40"/><circle cx="1232.8" cy="217.4" r="3.61"/><circle cx="1229.4" cy="220.5" r="3.61"/><circle cx="1235.8" cy="217.7" r="4.40"/><circle cx="1238.9" cy="220.2" r="3.61"/><circle cx="1233.4" cy="219.6" r="3.61"/><circle cx="1239.5" cy="220.2" r="4.40"/><circle cx="1241.9" cy="222.6" r="4.40"/><circle cx="1230.9" cy="221.4" r="4.40"/><circle cx="1229.1" cy="223.8" r="4.40"/><circle cx="1218.7" cy="233.6" r="4.40"/><circle cx="1220.0" cy="237.9" r="4.40"/><circle cx="1224.2" cy="239.7" r="4.40"/><circle cx="1227.0" cy="239.7" r="3.61"/><circle cx="1226.4" cy="242.2" r="3.61"/><circle cx="1229.7" cy="239.7" r="4.40"/><circle cx="1229.1" cy="242.2" r="3.61"/><circle cx="1228.5" cy="244.6" r="4.40"/><circle cx="1226.7" cy="246.4" r="3.61"/><circle cx="1232.2" cy="246.1" r="3.61"/><circle cx="1224.8" cy="248.3" r="4.40"/><circle cx="1227.9" cy="248.3" r="3.61"/><circle cx="1227.3" cy="251.3" r="3.61"/><circle cx="1230.9" cy="248.3" r="4.40"/><circle cx="1233.4" cy="248.0" r="3.61"/><circle cx="1230.3" cy="251.3" r="3.61"/><circle cx="1235.8" cy="247.6" r="4.40"/><circle cx="1240.1" cy="246.4" r="4.40"/><circle cx="1244.4" cy="246.4" r="4.40"/><circle cx="1229.7" cy="254.4" r="4.40"/><circle cx="1230.9" cy="258.6" r="4.40"/><circle cx="1191.3" cy="238.5" r="4.40"/><circle cx="1190.3" cy="241.2" r="3.61"/><circle cx="1189.4" cy="244.0" r="4.40"/><circle cx="1191.6" cy="242.2" r="3.61"/><circle cx="1193.7" cy="240.3" r="4.40"/><circle cx="1201.6" cy="244.0" r="4.40"/><circle cx="1204.4" cy="243.1" r="3.61"/><circle cx="1207.1" cy="242.2" r="4.40"/><circle cx="1205.9" cy="244.6" r="3.61"/><circle cx="1209.0" cy="244.3" r="3.61"/><circle cx="1204.7" cy="247.0" r="4.40"/><circle cx="1207.7" cy="246.7" r="3.61"/><circle cx="1210.8" cy="246.4" r="4.40"/><circle cx="1211.7" cy="249.8" r="3.61"/><circle cx="1214.5" cy="249.5" r="4.40"/><circle cx="1214.8" cy="253.4" r="3.61"/><circle cx="1215.1" cy="257.4" r="4.40"/><circle cx="1213.8" cy="255.3" r="3.61"/><circle cx="1212.6" cy="253.1" r="4.40"/></g>
<g fill="#440154"><circle cx="1220.0" cy="261.1" r="4.40"/></g>
<g fill="#21918c"><circle cx="1200.4" cy="269.0" r="4.40"/></g>
<g fill="#440154"><circle cx="1198.0" cy="267.6" r="4.40"/></g>
<g fill="#21918c"><circle cx="1216.3" cy="266.6" r="4.40"/><circle cx="1212.6" cy="269.6" r="4.40"/><circle cx="1209.6" cy="272.1" r="4.40"/></g>
<g fill="#440154"><circle cx="1017.7" cy="286.2" r="4.40"/><circle cx="882.5" cy="286.8" r="4.40"/><circle cx="899.8" cy="287.4" r="4.40"/><circle cx="899.2" cy="291.7" r="4.40"/><circle cx="902.9" cy="292.6" r="3.61"/><circle cx="897.1" cy="293.2" r="3.61"/><circle cx="906.6" cy="293.5" r="4.40"/><circle cx="895.0" cy="294.7" r="4.40"/><circle cx="891.3" cy="297.1" r="4.40"/><circle cx="887.6" cy="300.2" r="4.40"/><circle cx="887.6" cy="303.3" r="3.61"/><circle cx="885.2" cy="303.3" r="4.40"/><circle cx="870.5" cy="303.3" r="4.40"/><circle cx="872.7" cy="305.1" r="3.61"/><circle cx="874.8" cy="306.9" r="4.40"/><circle cx="876.9" cy="308.1" r="3.61"/><circle cx="879.1" cy="309.4" r="4.40"/><circle cx="887.6" cy="306.3" r="4.40"/><circle cx="879.7" cy="313.6" r="4.40"/><circle cx="882.4" cy="315.2" r="3.61"/><circle cx="881.5" cy="310.6" r="3.61"/><circle cx="885.2" cy="316.7" r="4.40"/><circle cx="883.4" cy="307.5" r="4.40"/><circle cx="897.4" cy="313.6" r="4.40"/><circle cx="897.7" cy="316.1" r="3.61"/><circle cx="898.0" cy="318.5" r="4.40"/><circle cx="913.3" cy="317.0" r="4.40"/><circle cx="910.2" cy="320.3" r="4.40"/><circle cx="910.2" cy="323.1" r="3.61"/><circle cx="910.2" cy="325.8" r="4.40"/><circle cx="887.6" cy="330.7" r="4.40"/><circle cx="890.7" cy="330.1" r="4.40"/><circle cx="924.9" cy="289.8" r="4.40"/><circle cx="923.3" cy="292.0" r="3.61"/><circle cx="926.4" cy="292.0" r="3.61"/><circle cx="932.8" cy="292.6" r="4.40"/><circle cx="930.4" cy="293.4" r="3.61"/><circle cx="921.8" cy="294.1" r="4.40"/><circle cx="924.9" cy="294.1" r="3.61"/><circle cx="923.0" cy="297.5" r="3.61"/><circle cx="927.9" cy="294.1" r="4.40"/><circle cx="926.1" cy="297.5" r="3.61"/><circle cx="918.8" cy="297.8" r="4.40"/><circle cx="921.5" cy="299.3" r="3.61"/><circle cx="924.3" cy="300.8" r="4.40"/><circle cx="958.4" cy="291.7" r="4.40"/><circle cx="956.0" cy="292.6" r="3.61"/></g>
<g fill="#3b528b"><circle cx="964.6" cy="292.3" r="4.40"/></g>
<g fill="#440154"><circle cx="953.6" cy="293.5" r="4.40"/><circle cx="949.9" cy="296.5" r="4.40"/><circle cx="948.1" cy="300.8" r="4.40"/><circle cx="947.5" cy="305.1" r="4.40"/><circle cx="945.9" cy="307.8" r="3.61"/><circle cx="948.1" cy="307.5" r="3.61"/></g>
<g fill="#3b528b"><circle cx="938.3" cy="306.3" r="4.40"/></g>
<g fill="#440154"><circle cx="944.4" cy="310.6" r="4.40"/><circle cx="947.2" cy="313.3" r="3.61"/><circle cx="948.7" cy="310.0" r="4.40"/><circle cx="946.5" cy="312.4" r="3.61"/><circle cx="949.3" cy="313.0" r="3.61"/><circle cx="957.8" cy="310.6" r="4.40"/><circle cx="944.4" cy="314.9" r="4.40"/><circle cx="947.2" cy="315.5" r="3.61"/><circle cx="949.9" cy="316.1" r="4.40"/><circle cx="953.6" cy="319.1" r="4.40"/><circle cx="947.5" cy="313.6" r="4.40"/><circle cx="986.3" cy="287.4" r="4.40"/><circle cx="987.8" cy="298.4" r="4.40"/><circle cx="990.5" cy="299.0" r="3.61"/><circle cx="993.2" cy="299.6" r="4.40"/><circle cx="992.9" cy="302.6" r="3.61"/><circle cx="992.6" cy="305.7" r="4.40"/></g>
<g fill="#3b528b"><circle cx="985.9" cy="289.8" r="4.40"/><circle cx="979.2" cy="294.7" r="4.40"/><circle cx="982.3" cy="297.8" r="4.40"/><circle cx="979.5" cy="298.1" r="3.61"/><circle cx="976.8" cy="298.4" r="4.40"/></g>
<g fill="#440154"><circle cx="1015.2" cy="302.0" r="4.40"/><circle cx="1014.0" cy="304.5" r="3.61"/><circle cx="1014.6" cy="306.3" r="4.40"/><circle cx="1015.5" cy="309.7" r="3.61"/><circle cx="1012.8" cy="306.9" r="4.40"/><circle cx="1014.6" cy="310.0" r="3.61"/><circle cx="1015.2" cy="310.6" r="4.40"/><circle cx="1016.4" cy="313.0" r="4.40"/><circle cx="1026.8" cy="322.2" r="4.40"/><circle cx="1027.7" cy="324.9" r="3.61"/><circle cx="1030.5" cy="324.0" r="4.40"/><circle cx="1028.7" cy="327.7" r="4.40"/><circle cx="1031.4" cy="327.4" r="3.61"/><circle cx="1034.2" cy="327.1" r="4.40"/><circle cx="1036.6" cy="327.7" r="3.61"/><circle cx="1039.0" cy="328.3" r="4.40"/><circle cx="1042.7" cy="329.0" r="3.61"/><circle cx="1046.4" cy="329.7" r="4.40"/><circle cx="1043.9" cy="330.8" r="3.61"/><circle cx="1044.5" cy="333.0" r="3.61"/><circle cx="1041.5" cy="331.9" r="4.40"/><circle cx="1039.6" cy="335.0" r="3.61"/><circle cx="1042.7" cy="336.2" r="4.40"/><circle cx="1040.3" cy="337.1" r="3.61"/><circle cx="1043.9" cy="339.9" r="4.40"/><circle cx="1040.9" cy="339.0" r="3.61"/><circle cx="1037.8" cy="338.1" r="4.40"/><circle cx="1035.4" cy="340.2" r="3.61"/><circle cx="1032.9" cy="342.3" r="4.40"/><circle cx="1032.3" cy="351.5" r="4.40"/><circle cx="1035.1" cy="351.2" r="3.61"/><circle cx="1034.8" cy="353.9" r="3.61"/><circle cx="1037.8" cy="350.9" r="4.40"/><circle cx="1037.5" cy="353.6" r="3.61"/><circle cx="1037.2" cy="356.4" r="4.40"/><circle cx="1040.9" cy="357.3" r="3.61"/><circle cx="1037.2" cy="359.1" r="3.61"/><circle cx="1047.6" cy="355.8" r="4.40"/><circle cx="1044.5" cy="358.2" r="4.40"/><circle cx="1037.2" cy="361.9" r="4.40"/></g>
<g fill="#3b528b"><circle cx="1054.7" cy="380.8" r="4.40"/></g>
<g fill="#440154"><circle cx="1062.8" cy="364.3" r="4.40"/><circle cx="1064.4" cy="366.4" r="3.61"/><circle cx="1065.9" cy="368.6" r="4.40"/><circle cx="1064.7" cy="371.0" r="3.61"/><circle cx="1063.5" cy="373.5" r="4.40"/><circle cx="1062.5" cy="375.9" r="3.61"/><circle cx="1061.6" cy="378.3" r="4.40"/></g>
<g fill="#21918c"><circle cx="1210.8" cy="280.7" r="4.40"/><circle cx="1207.7" cy="283.7" r="4.40"/><circle cx="1224.8" cy="280.1" r="4.40"/><circle cx="1227.0" cy="281.9" r="3.61"/><circle cx="1229.1" cy="283.7" r="4.40"/><circle cx="1229.7" cy="287.7" r="3.61"/><circle cx="1232.2" cy="286.8" r="4.40"/><circle cx="1231.2" cy="289.2" r="3.61"/><circle cx="1230.3" cy="291.7" r="4.40"/><circle cx="1241.9" cy="286.2" r="4.40"/><circle cx="1263.9" cy="280.1" r="4.40"/><circle cx="1260.9" cy="282.5" r="3.61"/><circle cx="1262.7" cy="283.4" r="3.61"/><circle cx="1257.8" cy="284.9" r="4.40"/><circle cx="1260.2" cy="284.0" r="3.61"/><circle cx="1261.5" cy="286.8" r="4.40"/><circle cx="1265.1" cy="289.2" r="4.40"/><circle cx="1263.9" cy="286.2" r="3.61"/><circle cx="1262.7" cy="283.1" r="4.40"/><circle cx="1158.9" cy="300.2" r="4.40"/></g>
<g fill="#440154"><circle cx="1125.9" cy="295.3" r="4.40"/><circle cx="1125.3" cy="297.8" r="4.40"/><circle cx="1135.5" cy="301.1" r="4.40"/><circle cx="1147.3" cy="289.5" r="4.40"/><circle cx="1157.1" cy="293.5" r="4.40"/><circle cx="1152.8" cy="297.1" r="4.40"/><circle cx="1152.4" cy="301.4" r="4.40"/></g>
<g fill="#21918c"><circle cx="1167.4" cy="296.5" r="4.40"/><circle cx="1171.7" cy="296.3" r="4.40"/></g>
<g fill="#440154"><circle cx="1072.2" cy="356.1" r="4.40"/><circle cx="1073.3" cy="358.6" r="3.61"/><circle cx="1074.4" cy="361.0" r="4.40"/></g>
</g>
<path d="M901.8 395.5v4.8M955.9 395.5v4.8M1009.9 395.5v4.8M1064.0 395.5v4.8M1118.1 395.5v4.8M1172.1 395.5v4.8M1226.2 395.5v4.8M1280.3 395.5v4.8M851.5 94.4h-4.8M851.5 140.2h-4.8M851.5 186.1h-4.8M851.5 231.9h-4.8M851.5 277.7h-4.8M851.5 323.6h-4.8M851.5 369.4h-4.8" class="tick"/>
<rect x="851.5" y="73.2" width="434.1" height="322.3" class="frame"/>
<g class="tl" font-size="19.4">
<text transform="translate(901.2 417.8) scale(0.91 1)" text-anchor="middle">−60</text>
<text transform="translate(955.3 417.8) scale(0.91 1)" text-anchor="middle">−40</text>
<text transform="translate(1009.3 417.8) scale(0.91 1)" text-anchor="middle">−20</text>
<text transform="translate(1063.4 417.8) scale(0.91 1)" text-anchor="middle">0</text>
<text transform="translate(1117.5 417.8) scale(0.91 1)" text-anchor="middle">20</text>
<text transform="translate(1171.5 417.8) scale(0.91 1)" text-anchor="middle">40</text>
<text transform="translate(1225.6 417.8) scale(0.91 1)" text-anchor="middle">60</text>
<text transform="translate(1279.7 417.8) scale(0.91 1)" text-anchor="middle">80</text>
<text transform="translate(840.9 100.7) scale(0.91 1)" text-anchor="end">60</text>
<text transform="translate(840.9 146.5) scale(0.91 1)" text-anchor="end">40</text>
<text transform="translate(840.9 192.4) scale(0.91 1)" text-anchor="end">20</text>
<text transform="translate(840.9 238.2) scale(0.91 1)" text-anchor="end">0</text>
<text transform="translate(840.9 284.0) scale(0.91 1)" text-anchor="end">−20</text>
<text transform="translate(840.9 329.9) scale(0.91 1)" text-anchor="end">−40</text>
<text transform="translate(840.9 375.7) scale(0.91 1)" text-anchor="end">−60</text>
</g></g>
<g class="panel" id="panel-c">
<path d="M369.6 481.4V803.7M425.6 481.4V803.7M481.5 481.4V803.7M537.5 481.4V803.7M593.5 481.4V803.7M649.4 481.4V803.7M705.4 481.4V803.7" class="grid gv"/>
<path d="M327.3 501.4H760.8M327.3 543.7H760.8M327.3 586.1H760.8M327.3 628.4H760.8M327.3 670.7H760.8M327.3 713.1H760.8M327.3 755.4H760.8M327.3 797.7H760.8" class="grid gh"/>
<g class="pts">
<g fill="#fde725"><circle cx="377.7" cy="544.5" r="4.40"/></g>
<g fill="#440154"><circle cx="367.9" cy="530.5" r="4.40"/><circle cx="374.0" cy="531.1" r="4.40"/><circle cx="376.5" cy="531.1" r="3.61"/><circle cx="378.9" cy="531.1" r="4.40"/><circle cx="369.7" cy="543.9" r="4.40"/><circle cx="374.0" cy="540.8" r="4.40"/></g>
<g fill="#21918c"><circle cx="371.0" cy="523.7" r="4.40"/><circle cx="373.2" cy="537.8" r="4.40"/></g>
<g fill="#440154"><circle cx="391.7" cy="535.1" r="4.40"/><circle cx="396.0" cy="535.7" r="4.40"/><circle cx="400.3" cy="535.9" r="4.40"/><circle cx="402.4" cy="533.2" r="3.61"/><circle cx="403.3" cy="535.6" r="3.61"/><circle cx="404.5" cy="530.5" r="4.40"/><circle cx="405.4" cy="532.9" r="3.61"/><circle cx="407.9" cy="530.8" r="3.61"/><circle cx="408.2" cy="532.3" r="4.40"/><circle cx="411.6" cy="530.3" r="3.61"/><circle cx="408.5" cy="535.6" r="3.61"/><circle cx="414.9" cy="528.4" r="4.40"/><circle cx="406.4" cy="535.3" r="4.40"/><circle cx="408.8" cy="533.2" r="3.61"/><circle cx="408.8" cy="539.0" r="4.40"/><circle cx="411.2" cy="531.1" r="4.40"/></g>
<g fill="#5ec962"><circle cx="429.0" cy="544.5" r="4.40"/></g>
<g fill="#440154"><circle cx="429.6" cy="547.5" r="4.40"/></g>
<g fill="#5ec962"><circle cx="384.1" cy="556.5" r="4.40"/></g>
<g fill="#21918c"><circle cx="385.0" cy="551.6" r="4.40"/></g>
<g fill="#5ec962"><circle cx="385.6" cy="568.9" r="4.40"/><circle cx="389.9" cy="567.1" r="4.40"/><circle cx="389.3" cy="569.5" r="3.61"/><circle cx="388.7" cy="572.0" r="4.40"/><circle cx="389.5" cy="576.2" r="4.40"/></g>
<g fill="#440154"><circle cx="413.4" cy="557.9" r="4.40"/></g>
<g fill="#3b528b"><circle cx="404.5" cy="556.5" r="4.40"/></g>
<g fill="#21918c"><circle cx="402.1" cy="549.1" r="4.40"/></g>
<g fill="#3b528b"><circle cx="409.4" cy="547.5" r="4.40"/></g>
<g fill="#21918c"><circle cx="416.7" cy="546.3" r="4.40"/><circle cx="412.5" cy="548.2" r="4.40"/><circle cx="419.8" cy="553.6" r="4.40"/></g>
<g fill="#3b528b"><circle cx="413.4" cy="551.8" r="4.40"/><circle cx="425.7" cy="555.5" r="4.40"/></g>
<g fill="#5ec962"><circle cx="462.8" cy="555.2" r="4.40"/></g>
<g fill="#440154"><circle cx="471.1" cy="555.5" r="4.40"/><circle cx="472.1" cy="560.4" r="4.40"/></g>
<g fill="#21918c"><circle cx="472.1" cy="564.6" r="4.40"/><circle cx="477.2" cy="571.4" r="4.40"/></g>
<g fill="#3b528b"><circle cx="481.5" cy="570.7" r="4.40"/></g>
<g fill="#440154"><circle cx="471.1" cy="569.5" r="4.40"/></g>
<g fill="#fde725"><circle cx="452.8" cy="576.8" r="4.40"/></g>
<g fill="#440154"><circle cx="450.6" cy="581.1" r="4.40"/><circle cx="450.1" cy="575.0" r="4.40"/></g>
<g fill="#3b528b"><circle cx="466.8" cy="581.1" r="4.40"/></g>
<g fill="#21918c"><circle cx="457.6" cy="575.6" r="4.40"/><circle cx="462.5" cy="576.8" r="4.40"/><circle cx="466.2" cy="578.7" r="4.40"/></g>
<g fill="#440154"><circle cx="472.3" cy="581.7" r="4.40"/><circle cx="475.0" cy="582.0" r="3.61"/><circle cx="477.8" cy="582.3" r="4.40"/></g>
<g fill="#21918c"><circle cx="488.8" cy="576.2" r="4.40"/><circle cx="487.0" cy="579.3" r="4.40"/><circle cx="491.2" cy="578.7" r="4.40"/><circle cx="508.3" cy="568.3" r="4.40"/></g>
<g fill="#3b528b"><circle cx="510.5" cy="564.6" r="4.40"/></g>
<g fill="#21918c"><circle cx="528.5" cy="555.5" r="4.40"/></g>
<g fill="#440154"><circle cx="526.3" cy="504.0" r="4.40"/><circle cx="502.2" cy="585.4" r="4.40"/><circle cx="504.4" cy="587.9" r="3.61"/><circle cx="506.5" cy="587.2" r="4.40"/><circle cx="507.1" cy="591.2" r="3.61"/></g>
<g fill="#21918c"><circle cx="541.0" cy="501.1" r="4.40"/></g>
<g fill="#440154"><circle cx="537.9" cy="496.3" r="4.40"/><circle cx="545.3" cy="507.3" r="4.40"/><circle cx="540.4" cy="520.3" r="4.40"/></g>
<g fill="#21918c"><circle cx="537.3" cy="511.5" r="4.40"/><circle cx="539.8" cy="512.4" r="3.61"/><circle cx="542.2" cy="513.4" r="4.40"/><circle cx="532.4" cy="520.1" r="4.40"/><circle cx="534.3" cy="524.3" r="4.40"/><circle cx="534.0" cy="528.3" r="3.61"/><circle cx="533.1" cy="528.6" r="4.40"/><circle cx="533.7" cy="532.3" r="4.40"/></g>
<g fill="#440154"><circle cx="536.7" cy="540.8" r="4.40"/></g>
<g fill="#21918c"><circle cx="534.3" cy="545.7" r="4.40"/><circle cx="542.2" cy="545.1" r="4.40"/><circle cx="541.3" cy="547.8" r="3.61"/><circle cx="540.4" cy="550.6" r="4.40"/><circle cx="549.5" cy="554.3" r="4.40"/></g>
<g fill="#440154"><circle cx="543.4" cy="555.5" r="4.40"/></g>
<g fill="#21918c"><circle cx="552.0" cy="558.5" r="4.40"/><circle cx="547.7" cy="559.8" r="4.40"/><circle cx="544.0" cy="564.0" r="4.40"/></g>
<g fill="#440154"><circle cx="537.9" cy="569.5" r="4.40"/><circle cx="538.4" cy="572.0" r="3.61"/><circle cx="538.8" cy="574.4" r="4.40"/></g>
<g fill="#fde725"><circle cx="619.1" cy="543.9" r="4.40"/><circle cx="616.7" cy="553.3" r="4.40"/></g>
<g fill="#5ec962"><circle cx="613.6" cy="528.4" r="4.40"/></g>
<g fill="#21918c"><circle cx="622.2" cy="524.0" r="4.40"/></g>
<g fill="#440154"><circle cx="621.3" cy="531.1" r="4.40"/></g>
<g fill="#5ec962"><circle cx="610.0" cy="539.4" r="4.40"/></g>
<g fill="#21918c"><circle cx="616.7" cy="545.1" r="4.40"/></g>
<g fill="#3b528b"><circle cx="614.2" cy="539.4" r="4.40"/></g>
<g fill="#440154"><circle cx="621.6" cy="540.8" r="4.40"/><circle cx="608.1" cy="551.2" r="4.40"/></g>
<g fill="#21918c"><circle cx="612.4" cy="551.8" r="4.40"/></g>
<g fill="#440154"><circle cx="602.0" cy="586.0" r="4.40"/></g>
<g fill="#21918c"><circle cx="615.5" cy="570.7" r="4.40"/><circle cx="618.5" cy="575.0" r="4.40"/><circle cx="605.7" cy="582.3" r="4.40"/><circle cx="610.6" cy="584.8" r="4.40"/></g>
<g fill="#5ec962"><circle cx="617.3" cy="582.1" r="4.40"/></g>
<g fill="#440154"><circle cx="611.2" cy="573.8" r="4.40"/><circle cx="609.1" cy="575.6" r="3.61"/><circle cx="606.9" cy="577.5" r="4.40"/></g>
<g fill="#3b528b"><circle cx="624.6" cy="573.2" r="4.40"/></g>
<g fill="#440154"><circle cx="696.7" cy="553.6" r="4.40"/><circle cx="700.9" cy="554.3" r="4.40"/><circle cx="697.3" cy="555.8" r="3.61"/><circle cx="693.6" cy="557.3" r="4.40"/><circle cx="690.0" cy="559.1" r="4.40"/><circle cx="688.4" cy="561.9" r="3.61"/><circle cx="691.8" cy="562.5" r="3.61"/><circle cx="686.9" cy="564.6" r="4.40"/><circle cx="690.3" cy="565.2" r="3.61"/><circle cx="693.6" cy="565.9" r="4.40"/><circle cx="709.5" cy="562.8" r="4.40"/><circle cx="710.1" cy="567.1" r="4.40"/><circle cx="706.7" cy="568.3" r="3.61"/><circle cx="710.4" cy="569.5" r="3.61"/><circle cx="703.4" cy="569.5" r="4.40"/><circle cx="702.8" cy="572.0" r="3.61"/><circle cx="707.0" cy="570.7" r="3.61"/><circle cx="702.2" cy="574.4" r="4.40"/><circle cx="710.7" cy="572.0" r="4.40"/><circle cx="712.8" cy="573.2" r="3.61"/><circle cx="713.2" cy="574.7" r="3.61"/><circle cx="715.0" cy="574.4" r="4.40"/><circle cx="715.6" cy="577.5" r="4.40"/><circle cx="408.2" cy="605.6" r="4.40"/></g>
<g fill="#5ec962"><circle cx="411.9" cy="588.5" r="4.40"/><circle cx="399.0" cy="592.2" r="4.40"/><circle cx="401.2" cy="594.0" r="3.61"/><circle cx="403.3" cy="595.8" r="4.40"/><circle cx="400.3" cy="598.3" r="3.61"/><circle cx="403.0" cy="598.6" r="3.61"/><circle cx="397.2" cy="600.7" r="4.40"/><circle cx="400.0" cy="601.0" r="3.61"/><circle cx="402.7" cy="601.3" r="4.40"/><circle cx="407.6" cy="601.9" r="4.40"/><circle cx="414.9" cy="601.3" r="4.40"/><circle cx="417.4" cy="601.3" r="3.61"/><circle cx="419.8" cy="601.3" r="4.40"/></g>
<g fill="#440154"><circle cx="356.9" cy="627.0" r="4.40"/><circle cx="356.6" cy="629.7" r="3.61"/><circle cx="353.3" cy="628.8" r="4.40"/><circle cx="351.1" cy="630.0" r="3.61"/><circle cx="352.6" cy="631.5" r="3.61"/><circle cx="353.9" cy="632.8" r="3.61"/><circle cx="349.0" cy="631.2" r="4.40"/><circle cx="352.6" cy="631.8" r="3.61"/><circle cx="351.7" cy="634.0" r="3.61"/><circle cx="345.9" cy="632.8" r="4.40"/><circle cx="349.0" cy="633.5" r="3.61"/><circle cx="356.3" cy="632.5" r="4.40"/><circle cx="352.0" cy="634.3" r="4.40"/><circle cx="354.5" cy="636.7" r="4.40"/><circle cx="502.2" cy="586.1" r="4.40"/><circle cx="504.4" cy="588.2" r="3.61"/><circle cx="506.5" cy="590.3" r="4.40"/><circle cx="507.1" cy="592.8" r="3.61"/><circle cx="507.7" cy="595.2" r="4.40"/><circle cx="508.9" cy="598.3" r="3.61"/><circle cx="511.1" cy="596.7" r="3.61"/><circle cx="506.5" cy="598.9" r="4.40"/><circle cx="510.5" cy="598.6" r="3.61"/><circle cx="510.2" cy="601.3" r="4.40"/><circle cx="512.3" cy="599.8" r="3.61"/><circle cx="513.8" cy="600.1" r="3.61"/><circle cx="514.4" cy="598.3" r="4.40"/><circle cx="517.5" cy="598.9" r="4.40"/><circle cx="533.1" cy="591.3" r="4.40"/></g>
<g fill="#3b528b"><circle cx="469.9" cy="594.0" r="4.40"/><circle cx="471.1" cy="596.1" r="3.61"/><circle cx="472.3" cy="598.3" r="4.40"/><circle cx="473.8" cy="600.4" r="3.61"/><circle cx="475.4" cy="602.5" r="4.40"/><circle cx="479.0" cy="604.4" r="4.40"/><circle cx="481.2" cy="606.2" r="3.61"/><circle cx="481.5" cy="607.4" r="3.61"/><circle cx="483.3" cy="608.0" r="4.40"/><circle cx="483.9" cy="610.5" r="4.40"/></g>
<g fill="#21918c"><circle cx="472.3" cy="610.5" r="4.40"/><circle cx="469.2" cy="614.1" r="4.40"/><circle cx="466.2" cy="617.2" r="4.40"/></g>
<g fill="#3b528b"><circle cx="461.9" cy="621.5" r="4.40"/><circle cx="463.4" cy="624.5" r="3.61"/><circle cx="461.9" cy="625.1" r="4.40"/><circle cx="465.0" cy="627.6" r="4.40"/><circle cx="458.3" cy="631.2" r="4.40"/></g>
<g fill="#21918c"><circle cx="460.7" cy="631.8" r="4.40"/><circle cx="461.3" cy="636.7" r="4.40"/></g>
<g fill="#3b528b"><circle cx="472.3" cy="631.8" r="4.40"/><circle cx="474.1" cy="634.9" r="4.40"/></g>
<g fill="#440154"><circle cx="448.5" cy="619.6" r="4.40"/><circle cx="450.3" cy="622.7" r="4.40"/><circle cx="534.0" cy="608.6" r="4.40"/><circle cx="530.9" cy="612.3" r="4.40"/><circle cx="529.7" cy="616.6" r="4.40"/><circle cx="527.2" cy="618.1" r="3.61"/><circle cx="531.5" cy="619.9" r="3.61"/><circle cx="519.3" cy="619.6" r="4.40"/><circle cx="522.1" cy="619.6" r="3.61"/><circle cx="522.1" cy="622.4" r="3.61"/><circle cx="524.8" cy="619.6" r="4.40"/><circle cx="527.2" cy="620.2" r="3.61"/><circle cx="521.7" cy="621.8" r="3.61"/><circle cx="524.8" cy="622.4" r="3.61"/><circle cx="527.2" cy="622.7" r="3.61"/><circle cx="529.7" cy="620.9" r="4.40"/><circle cx="527.2" cy="623.0" r="3.61"/><circle cx="529.7" cy="623.3" r="3.61"/><circle cx="518.7" cy="623.9" r="4.40"/><circle cx="521.7" cy="624.5" r="3.61"/><circle cx="524.8" cy="625.1" r="4.40"/><circle cx="521.4" cy="626.7" r="3.61"/><circle cx="527.2" cy="625.4" r="3.61"/><circle cx="533.3" cy="623.3" r="4.40"/><circle cx="518.1" cy="628.2" r="4.40"/><circle cx="529.7" cy="625.7" r="4.40"/><circle cx="537.6" cy="636.1" r="4.40"/><circle cx="541.9" cy="636.1" r="4.40"/></g>
<g fill="#5ec962"><circle cx="425.3" cy="648.9" r="4.40"/></g>
<g fill="#21918c"><circle cx="433.8" cy="647.1" r="4.40"/></g>
<g fill="#440154"><circle cx="431.0" cy="658.5" r="4.40"/></g>
<g fill="#21918c"><circle cx="430.5" cy="657.5" r="4.40"/></g>
<g fill="#440154"><circle cx="439.3" cy="633.7" r="4.40"/><circle cx="425.3" cy="637.3" r="4.40"/><circle cx="428.0" cy="637.6" r="3.61"/><circle cx="430.8" cy="637.9" r="4.40"/><circle cx="432.6" cy="644.1" r="4.40"/><circle cx="422.8" cy="653.8" r="4.40"/><circle cx="428.3" cy="653.2" r="4.40"/></g>
<g fill="#21918c"><circle cx="435.4" cy="634.3" r="4.40"/></g>
<g fill="#440154"><circle cx="448.9" cy="650.2" r="4.40"/></g>
<g fill="#21918c"><circle cx="449.7" cy="646.5" r="4.40"/></g>
<g fill="#3b528b"><circle cx="453.4" cy="643.4" r="4.40"/></g>
<g fill="#440154"><circle cx="468.0" cy="650.2" r="4.40"/></g>
<g fill="#3b528b"><circle cx="469.2" cy="653.2" r="4.40"/><circle cx="474.1" cy="644.7" r="4.40"/></g>
<g fill="#21918c"><circle cx="472.3" cy="647.7" r="4.40"/><circle cx="476.6" cy="652.0" r="4.40"/><circle cx="483.3" cy="649.5" r="4.40"/></g>
<g fill="#440154"><circle cx="480.2" cy="644.7" r="4.40"/></g>
<g fill="#3b528b"><circle cx="490.6" cy="652.6" r="4.40"/></g>
<g fill="#21918c"><circle cx="494.9" cy="657.5" r="4.40"/><circle cx="493.7" cy="661.8" r="4.40"/></g>
<g fill="#3b528b"><circle cx="496.1" cy="667.2" r="4.40"/><circle cx="493.1" cy="666.0" r="4.40"/></g>
<g fill="#21918c"><circle cx="477.2" cy="662.4" r="4.40"/></g>
<g fill="#440154"><circle cx="478.6" cy="664.8" r="4.40"/></g>
<g fill="#21918c"><circle cx="513.6" cy="664.6" r="4.40"/></g>
<g fill="#fde725"><circle cx="535.2" cy="647.1" r="4.40"/></g>
<g fill="#21918c"><circle cx="521.7" cy="646.2" r="4.40"/><circle cx="525.7" cy="646.1" r="3.61"/><circle cx="529.7" cy="645.9" r="4.40"/><circle cx="531.5" cy="651.4" r="4.40"/><circle cx="530.6" cy="653.7" r="3.61"/><circle cx="529.7" cy="656.0" r="4.40"/></g>
<g fill="#3b528b"><circle cx="540.7" cy="649.9" r="4.40"/><circle cx="478.4" cy="675.2" r="4.40"/><circle cx="482.1" cy="677.6" r="4.40"/><circle cx="484.5" cy="680.7" r="4.40"/><circle cx="543.1" cy="674.0" r="4.40"/><circle cx="546.9" cy="673.4" r="3.61"/></g>
<g fill="#21918c"><circle cx="444.8" cy="681.3" r="4.40"/></g>
<g fill="#440154"><circle cx="447.9" cy="682.9" r="4.40"/><circle cx="414.9" cy="683.7" r="4.40"/><circle cx="416.4" cy="686.2" r="3.61"/><circle cx="418.0" cy="685.3" r="3.61"/><circle cx="547.1" cy="609.3" r="4.40"/><circle cx="563.2" cy="604.7" r="4.40"/></g>
<g fill="#3b528b"><circle cx="562.0" cy="606.8" r="4.40"/></g>
<g fill="#440154"><circle cx="552.6" cy="616.0" r="4.40"/><circle cx="553.2" cy="619.0" r="4.40"/></g>
<g fill="#21918c"><circle cx="550.1" cy="610.8" r="4.40"/><circle cx="567.9" cy="622.3" r="4.40"/></g>
<g fill="#440154"><circle cx="555.6" cy="628.2" r="4.40"/><circle cx="559.9" cy="630.0" r="4.40"/><circle cx="562.1" cy="628.8" r="3.61"/><circle cx="564.2" cy="627.6" r="4.40"/><circle cx="570.9" cy="626.3" r="4.40"/><circle cx="574.0" cy="622.1" r="4.40"/><circle cx="577.0" cy="622.7" r="3.61"/><circle cx="580.1" cy="623.3" r="4.40"/><circle cx="553.2" cy="641.6" r="4.40"/><circle cx="552.0" cy="644.7" r="3.61"/><circle cx="554.4" cy="645.3" r="4.40"/><circle cx="550.8" cy="647.7" r="4.40"/></g>
<g fill="#fde725"><circle cx="552.0" cy="635.3" r="4.40"/></g>
<g fill="#3b528b"><circle cx="550.8" cy="672.7" r="4.40"/><circle cx="553.5" cy="674.6" r="3.61"/><circle cx="547.7" cy="675.2" r="4.40"/><circle cx="551.4" cy="676.4" r="4.40"/><circle cx="553.8" cy="676.4" r="3.61"/><circle cx="556.3" cy="676.4" r="4.40"/><circle cx="560.5" cy="677.6" r="4.40"/><circle cx="564.2" cy="678.2" r="4.40"/><circle cx="567.9" cy="678.2" r="4.40"/></g>
<g fill="#440154"><circle cx="562.7" cy="671.2" r="4.40"/></g>
<g fill="#3b528b"><circle cx="580.7" cy="667.0" r="4.40"/><circle cx="584.9" cy="666.6" r="4.40"/><circle cx="583.7" cy="669.1" r="4.40"/><circle cx="605.7" cy="656.3" r="4.40"/><circle cx="605.1" cy="658.7" r="3.61"/><circle cx="604.5" cy="661.1" r="4.40"/><circle cx="606.3" cy="659.3" r="3.61"/><circle cx="608.1" cy="657.5" r="4.40"/></g>
<g fill="#440154"><circle cx="611.8" cy="653.6" r="4.40"/></g>
<g fill="#21918c"><circle cx="630.7" cy="638.6" r="4.40"/></g>
<g fill="#440154"><circle cx="634.4" cy="639.8" r="4.40"/><circle cx="637.8" cy="641.3" r="3.61"/><circle cx="638.1" cy="641.0" r="4.40"/><circle cx="640.8" cy="642.8" r="3.61"/><circle cx="641.1" cy="642.8" r="4.40"/><circle cx="643.6" cy="644.7" r="4.40"/><circle cx="650.9" cy="653.8" r="4.40"/><circle cx="652.4" cy="656.6" r="3.61"/><circle cx="652.7" cy="656.9" r="4.40"/><circle cx="653.9" cy="659.3" r="4.40"/><circle cx="665.5" cy="633.1" r="4.40"/><circle cx="667.4" cy="636.7" r="4.40"/><circle cx="670.4" cy="636.4" r="3.61"/><circle cx="668.3" cy="639.2" r="3.61"/><circle cx="673.5" cy="636.1" r="4.40"/><circle cx="671.3" cy="638.9" r="3.61"/><circle cx="677.7" cy="635.5" r="4.40"/><circle cx="669.2" cy="641.6" r="4.40"/><circle cx="669.2" cy="644.1" r="3.61"/><circle cx="669.2" cy="646.5" r="4.40"/><circle cx="671.6" cy="647.4" r="3.61"/><circle cx="674.1" cy="648.3" r="4.40"/></g>
<g fill="#21918c"><circle cx="694.8" cy="632.5" r="4.40"/></g>
<g fill="#440154"><circle cx="689.3" cy="653.8" r="4.40"/><circle cx="689.3" cy="656.3" r="3.61"/><circle cx="689.3" cy="658.7" r="4.40"/><circle cx="699.5" cy="656.9" r="4.40"/><circle cx="665.5" cy="659.3" r="4.40"/><circle cx="668.0" cy="660.2" r="3.61"/><circle cx="670.4" cy="661.1" r="4.40"/><circle cx="672.6" cy="662.4" r="3.61"/><circle cx="670.1" cy="663.9" r="3.61"/><circle cx="674.7" cy="663.6" r="4.40"/><circle cx="677.1" cy="664.8" r="3.61"/><circle cx="672.2" cy="665.1" r="3.61"/><circle cx="679.6" cy="666.0" r="4.40"/><circle cx="669.8" cy="666.6" r="4.40"/><circle cx="649.0" cy="671.5" r="4.40"/><circle cx="651.2" cy="674.9" r="3.61"/><circle cx="653.3" cy="673.4" r="4.40"/><circle cx="653.3" cy="675.8" r="3.61"/><circle cx="657.6" cy="675.2" r="4.40"/><circle cx="660.0" cy="675.5" r="3.61"/><circle cx="655.5" cy="676.7" r="3.61"/><circle cx="662.5" cy="675.8" r="4.40"/><circle cx="653.3" cy="678.2" r="4.40"/><circle cx="651.5" cy="681.6" r="3.61"/><circle cx="675.3" cy="676.0" r="4.40"/><circle cx="679.0" cy="676.0" r="3.61"/><circle cx="679.0" cy="676.0" r="4.40"/><circle cx="682.6" cy="676.0" r="4.40"/></g>
<g fill="#21918c"><circle cx="740.6" cy="607.4" r="4.40"/><circle cx="741.0" cy="610.5" r="4.40"/></g>
<g fill="#440154"><circle cx="710.7" cy="598.9" r="4.40"/><circle cx="712.8" cy="597.3" r="3.61"/><circle cx="714.7" cy="598.6" r="3.61"/><circle cx="715.0" cy="595.8" r="4.40"/><circle cx="710.7" cy="603.1" r="4.40"/><circle cx="718.6" cy="598.3" r="4.40"/><circle cx="722.9" cy="598.9" r="4.40"/><circle cx="726.0" cy="601.9" r="4.40"/><circle cx="729.0" cy="605.0" r="4.40"/><circle cx="731.5" cy="608.0" r="3.61"/><circle cx="731.5" cy="608.0" r="4.40"/><circle cx="733.9" cy="611.1" r="4.40"/><circle cx="738.8" cy="619.6" r="4.40"/><circle cx="737.0" cy="622.1" r="3.61"/><circle cx="735.1" cy="624.5" r="4.40"/><circle cx="737.3" cy="626.3" r="3.61"/><circle cx="739.4" cy="628.2" r="4.40"/><circle cx="738.5" cy="625.7" r="3.61"/><circle cx="737.6" cy="623.3" r="4.40"/><circle cx="418.0" cy="688.7" r="4.40"/><circle cx="419.8" cy="692.3" r="4.40"/><circle cx="420.4" cy="689.6" r="3.61"/><circle cx="416.5" cy="690.2" r="3.61"/></g>
<g fill="#21918c"><circle cx="430.8" cy="693.5" r="4.40"/></g>
<g fill="#440154"><circle cx="433.2" cy="686.8" r="4.40"/><circle cx="434.4" cy="692.9" r="4.40"/><circle cx="442.8" cy="697.8" r="4.40"/></g>
<g fill="#21918c"><circle cx="442.4" cy="692.9" r="4.40"/><circle cx="447.3" cy="691.1" r="4.40"/><circle cx="449.7" cy="691.1" r="3.61"/><circle cx="452.2" cy="691.1" r="4.40"/><circle cx="456.4" cy="690.9" r="4.40"/></g>
<g fill="#440154"><circle cx="429.0" cy="701.5" r="4.40"/><circle cx="431.4" cy="704.5" r="4.40"/><circle cx="439.9" cy="711.3" r="4.40"/><circle cx="442.1" cy="712.5" r="3.61"/><circle cx="438.7" cy="714.3" r="3.61"/><circle cx="444.2" cy="713.7" r="4.40"/><circle cx="440.9" cy="715.5" r="3.61"/><circle cx="437.5" cy="717.4" r="4.40"/><circle cx="438.7" cy="720.4" r="4.40"/><circle cx="459.5" cy="714.9" r="4.40"/></g>
<g fill="#21918c"><circle cx="461.9" cy="713.7" r="4.40"/><circle cx="526.0" cy="730.2" r="4.40"/><circle cx="514.4" cy="705.1" r="4.40"/><circle cx="514.4" cy="708.8" r="4.40"/></g>
<g fill="#3b528b"><circle cx="515.0" cy="715.5" r="4.40"/><circle cx="519.3" cy="716.7" r="4.40"/><circle cx="523.6" cy="718.6" r="4.40"/><circle cx="526.6" cy="720.4" r="4.40"/></g>
<g fill="#440154"><circle cx="519.9" cy="727.1" r="4.40"/><circle cx="527.9" cy="726.3" r="4.40"/></g>
<g fill="#3b528b"><circle cx="532.7" cy="749.7" r="4.40"/><circle cx="537.0" cy="754.6" r="4.40"/></g>
<g fill="#21918c"><circle cx="529.7" cy="758.9" r="4.40"/></g>
<g fill="#5ec962"><circle cx="536.4" cy="759.2" r="4.40"/></g>
<g fill="#fde725"><circle cx="523.6" cy="752.2" r="4.40"/></g>
<g fill="#440154"><circle cx="532.1" cy="752.2" r="4.40"/></g>
<g fill="#21918c"><circle cx="469.9" cy="781.5" r="4.40"/><circle cx="472.6" cy="781.2" r="3.61"/><circle cx="475.4" cy="780.8" r="4.40"/><circle cx="473.5" cy="784.5" r="4.40"/></g>
<g fill="#3b528b"><circle cx="481.8" cy="780.8" r="4.40"/></g>
<g fill="#21918c"><circle cx="479.0" cy="785.7" r="4.40"/><circle cx="483.3" cy="787.6" r="4.40"/><circle cx="485.1" cy="788.8" r="4.40"/></g>
<g fill="#3b528b"><circle cx="624.6" cy="693.5" r="4.40"/><circle cx="626.8" cy="692.0" r="3.61"/><circle cx="628.9" cy="690.5" r="4.40"/><circle cx="632.0" cy="689.3" r="3.61"/><circle cx="633.2" cy="691.1" r="4.40"/><circle cx="637.4" cy="692.9" r="4.40"/><circle cx="636.2" cy="690.5" r="3.61"/><circle cx="635.0" cy="688.1" r="4.40"/></g>
<g fill="#440154"><circle cx="644.8" cy="686.8" r="4.40"/><circle cx="647.2" cy="685.9" r="3.61"/><circle cx="649.7" cy="685.0" r="4.40"/></g>
<g fill="#21918c"><circle cx="548.3" cy="743.0" r="4.40"/></g>
<g fill="#3b528b"><circle cx="544.0" cy="740.9" r="4.40"/><circle cx="541.6" cy="746.1" r="4.40"/></g>
<g fill="#21918c"><circle cx="562.4" cy="735.1" r="4.40"/><circle cx="566.0" cy="740.6" r="4.40"/><circle cx="564.2" cy="738.1" r="4.40"/></g>
<g fill="#3b528b"><circle cx="566.6" cy="731.4" r="4.40"/><circle cx="559.9" cy="741.8" r="4.40"/></g>
<g fill="#21918c"><circle cx="579.5" cy="754.6" r="4.40"/></g>
<g fill="#440154"><circle cx="590.4" cy="761.3" r="4.40"/><circle cx="593.5" cy="764.4" r="4.40"/></g>
<g fill="#3b528b"><circle cx="582.5" cy="756.4" r="4.40"/><circle cx="586.2" cy="758.3" r="4.40"/></g>
<g fill="#440154"><circle cx="570.9" cy="774.7" r="4.40"/></g>
<g fill="#3b528b"><circle cx="576.4" cy="775.4" r="4.40"/><circle cx="580.1" cy="776.6" r="4.40"/></g>
<g fill="#440154"><circle cx="586.8" cy="773.2" r="4.40"/><circle cx="584.9" cy="774.7" r="4.40"/></g>
<g fill="#21918c"><circle cx="617.3" cy="740.9" r="4.40"/><circle cx="626.5" cy="747.3" r="4.40"/></g>
<g fill="#440154"><circle cx="619.7" cy="744.2" r="4.40"/><circle cx="632.6" cy="735.1" r="4.40"/><circle cx="634.7" cy="736.6" r="3.61"/><circle cx="636.8" cy="738.1" r="4.40"/><circle cx="637.2" cy="752.2" r="4.40"/></g>
<g fill="#fde725"><circle cx="628.9" cy="743.6" r="4.40"/><circle cx="630.7" cy="754.6" r="4.40"/></g>
<g fill="#440154"><circle cx="421.1" cy="686.8" r="4.40"/><circle cx="417.1" cy="687.4" r="3.61"/><circle cx="413.2" cy="688.0" r="4.40"/></g>
</g>
<path d="M369.6 803.7v4.8M425.6 803.7v4.8M481.5 803.7v4.8M537.5 803.7v4.8M593.5 803.7v4.8M649.4 803.7v4.8M705.4 803.7v4.8M327.3 501.4h-4.8M327.3 543.7h-4.8M327.3 586.1h-4.8M327.3 628.4h-4.8M327.3 670.7h-4.8M327.3 713.1h-4.8M327.3 755.4h-4.8M327.3 797.7h-4.8" class="tick"/>
<rect x="327.3" y="481.4" width="433.5" height="322.3" class="frame"/>
<g class="tl" font-size="19.4">
<text transform="translate(369.0 826.0) scale(0.91 1)" text-anchor="middle">−60</text>
<text transform="translate(425.0 826.0) scale(0.91 1)" text-anchor="middle">−40</text>
<text transform="translate(480.9 826.0) scale(0.91 1)" text-anchor="middle">−20</text>
<text transform="translate(536.9 826.0) scale(0.91 1)" text-anchor="middle">0</text>
<text transform="translate(592.9 826.0) scale(0.91 1)" text-anchor="middle">20</text>
<text transform="translate(648.8 826.0) scale(0.91 1)" text-anchor="middle">40</text>
<text transform="translate(704.8 826.0) scale(0.91 1)" text-anchor="middle">60</text>
<text transform="translate(317.3 508.0) scale(0.91 1)" text-anchor="end">60</text>
<text transform="translate(317.3 550.3) scale(0.91 1)" text-anchor="end">40</text>
<text transform="translate(317.3 592.7) scale(0.91 1)" text-anchor="end">20</text>
<text transform="translate(317.3 635.0) scale(0.91 1)" text-anchor="end">0</text>
<text transform="translate(317.3 677.3) scale(0.91 1)" text-anchor="end">−20</text>
<text transform="translate(317.3 719.7) scale(0.91 1)" text-anchor="end">−40</text>
<text transform="translate(317.3 762.0) scale(0.91 1)" text-anchor="end">−60</text>
<text transform="translate(317.3 804.3) scale(0.91 1)" text-anchor="end">−80</text>
</g></g>
<g class="panel" id="panel-d">
<path d="M883.7 485.1V804.5M932.4 485.1V804.5M981.1 485.1V804.5M1029.8 485.1V804.5M1078.5 485.1V804.5M1127.2 485.1V804.5M1175.9 485.1V804.5M1224.6 485.1V804.5M1273.3 485.1V804.5" class="grid gv" style="stroke-width:1.2"/>
<path d="M853.7 485.7H1283.8M853.7 528.9H1283.8M853.7 572.1H1283.8M853.7 615.3H1283.8M853.7 658.5H1283.8M853.7 701.7H1283.8M853.7 744.9H1283.8M853.7 788.1H1283.8" class="grid gh" style="stroke-width:1.2"/>
<g class="pts">
<g fill="#440154"><circle cx="965.7" cy="587.6" r="4.20"/><circle cx="968.8" cy="584.5" r="4.20"/><circle cx="1024.3" cy="567.4" r="4.20"/></g>
<g fill="#3b528b"><circle cx="1029.8" cy="569.2" r="4.20"/><circle cx="1068.3" cy="499.0" r="4.20"/><circle cx="1071.7" cy="498.4" r="3.44"/><circle cx="1070.7" cy="501.2" r="3.44"/><circle cx="1058.5" cy="514.9" r="4.20"/><circle cx="1061.6" cy="513.7" r="3.44"/><circle cx="1064.6" cy="512.5" r="4.20"/><circle cx="1063.1" cy="515.2" r="3.44"/><circle cx="1065.5" cy="514.6" r="3.44"/><circle cx="1067.1" cy="511.9" r="3.44"/><circle cx="1061.6" cy="518.0" r="4.20"/><circle cx="1064.0" cy="517.4" r="3.44"/><circle cx="1066.5" cy="516.7" r="4.20"/><circle cx="1068.0" cy="514.0" r="3.44"/><circle cx="1060.3" cy="528.3" r="4.20"/><circle cx="1062.8" cy="529.0" r="3.44"/><circle cx="1061.6" cy="531.1" r="3.44"/><circle cx="1065.2" cy="529.6" r="4.20"/><circle cx="1064.0" cy="531.7" r="3.44"/><circle cx="1066.5" cy="532.0" r="3.44"/><circle cx="1069.5" cy="529.0" r="4.20"/><circle cx="1068.6" cy="531.7" r="3.44"/><circle cx="1072.0" cy="529.6" r="3.44"/><circle cx="1062.8" cy="533.8" r="4.20"/><circle cx="1060.0" cy="536.0" r="3.44"/><circle cx="1065.2" cy="534.1" r="3.44"/><circle cx="1057.3" cy="538.1" r="4.20"/><circle cx="1067.7" cy="534.5" r="4.20"/><circle cx="1071.0" cy="535.4" r="3.44"/><circle cx="1052.4" cy="548.5" r="4.20"/><circle cx="1054.9" cy="548.2" r="3.44"/><circle cx="1057.3" cy="547.9" r="4.20"/><circle cx="1059.7" cy="547.3" r="3.44"/><circle cx="1060.7" cy="549.4" r="3.44"/><circle cx="1062.2" cy="546.7" r="4.20"/><circle cx="1063.1" cy="548.8" r="3.44"/><circle cx="1064.0" cy="550.9" r="4.20"/><circle cx="1046.9" cy="560.7" r="4.20"/><circle cx="1046.6" cy="563.4" r="3.44"/><circle cx="1046.3" cy="566.2" r="4.20"/><circle cx="1049.4" cy="569.2" r="4.20"/><circle cx="1052.4" cy="568.9" r="3.44"/><circle cx="1051.2" cy="571.7" r="3.44"/><circle cx="1055.5" cy="568.6" r="4.20"/><circle cx="1057.9" cy="567.7" r="3.44"/><circle cx="1054.2" cy="571.4" r="3.44"/><circle cx="1060.3" cy="566.8" r="4.20"/><circle cx="1053.0" cy="574.1" r="4.20"/><circle cx="1053.0" cy="578.4" r="4.20"/><circle cx="1075.0" cy="497.8" r="4.20"/><circle cx="1074.1" cy="500.6" r="3.44"/><circle cx="1073.2" cy="503.3" r="4.20"/><circle cx="1074.7" cy="505.8" r="3.44"/><circle cx="1076.3" cy="508.2" r="4.20"/><circle cx="1078.7" cy="507.9" r="3.44"/><circle cx="1077.5" cy="510.9" r="3.44"/><circle cx="1072.9" cy="509.7" r="3.44"/><circle cx="1081.1" cy="507.6" r="4.20"/><circle cx="1079.9" cy="510.6" r="3.44"/><circle cx="1083.6" cy="510.0" r="3.44"/><circle cx="1078.7" cy="513.7" r="4.20"/><circle cx="1079.0" cy="516.1" r="3.44"/><circle cx="1082.4" cy="513.1" r="3.44"/><circle cx="1079.3" cy="518.6" r="4.20"/><circle cx="1086.0" cy="512.5" r="4.20"/><circle cx="1088.5" cy="511.6" r="3.44"/><circle cx="1089.7" cy="513.4" r="3.44"/><circle cx="1090.9" cy="510.6" r="4.20"/><circle cx="1093.3" cy="514.3" r="4.20"/><circle cx="1069.5" cy="511.3" r="4.20"/><circle cx="1112.9" cy="511.6" r="4.20"/><circle cx="1115.9" cy="512.5" r="4.20"/><circle cx="1119.6" cy="521.0" r="4.20"/><circle cx="1118.1" cy="524.1" r="3.44"/><circle cx="1120.8" cy="525.3" r="4.20"/><circle cx="1118.7" cy="526.2" r="3.44"/><circle cx="1096.4" cy="524.3" r="4.20"/><circle cx="1116.5" cy="527.1" r="4.20"/><circle cx="1114.4" cy="528.0" r="3.44"/><circle cx="1112.3" cy="529.0" r="4.20"/><circle cx="1109.8" cy="529.9" r="3.44"/><circle cx="1111.1" cy="532.6" r="3.44"/><circle cx="1111.7" cy="531.4" r="3.44"/><circle cx="1107.4" cy="530.8" r="4.20"/><circle cx="1108.6" cy="533.5" r="3.44"/><circle cx="1109.2" cy="532.3" r="3.44"/><circle cx="1103.1" cy="531.4" r="4.20"/><circle cx="1100.7" cy="529.3" r="3.44"/><circle cx="1098.2" cy="527.1" r="4.20"/><circle cx="1074.4" cy="530.2" r="4.20"/><circle cx="1076.9" cy="530.8" r="3.44"/><circle cx="1074.4" cy="533.2" r="3.44"/><circle cx="1079.3" cy="531.4" r="4.20"/><circle cx="1081.7" cy="531.7" r="3.44"/><circle cx="1076.9" cy="533.8" r="3.44"/><circle cx="1084.2" cy="532.0" r="4.20"/><circle cx="1074.4" cy="536.3" r="4.20"/><circle cx="1075.0" cy="538.7" r="3.44"/><circle cx="1075.6" cy="541.2" r="4.20"/><circle cx="1092.1" cy="542.4" r="4.20"/><circle cx="1094.3" cy="541.5" r="3.44"/><circle cx="1096.4" cy="540.6" r="4.20"/><circle cx="1098.8" cy="540.3" r="3.44"/><circle cx="1101.3" cy="539.9" r="4.20"/><circle cx="1103.7" cy="539.6" r="3.44"/><circle cx="1106.2" cy="539.3" r="4.20"/><circle cx="1108.0" cy="537.8" r="3.44"/><circle cx="1108.6" cy="536.6" r="3.44"/><circle cx="1109.8" cy="536.3" r="4.20"/><circle cx="1109.2" cy="539.6" r="3.44"/><circle cx="1111.1" cy="533.8" r="4.20"/><circle cx="1108.6" cy="543.0" r="4.20"/><circle cx="1107.4" cy="547.3" r="4.20"/><circle cx="1095.4" cy="552.8" r="4.20"/><circle cx="1094.9" cy="555.2" r="4.20"/><circle cx="1073.6" cy="554.4" r="4.20"/><circle cx="1123.9" cy="539.9" r="4.20"/><circle cx="1124.2" cy="542.4" r="3.44"/><circle cx="1124.5" cy="544.8" r="4.20"/><circle cx="1124.2" cy="547.9" r="3.44"/><circle cx="1123.9" cy="550.9" r="4.20"/><circle cx="1126.3" cy="548.5" r="3.44"/><circle cx="1127.2" cy="550.3" r="3.44"/><circle cx="1128.8" cy="546.1" r="4.20"/><circle cx="1130.6" cy="549.7" r="4.20"/><circle cx="1132.4" cy="551.2" r="3.44"/><circle cx="1134.2" cy="552.8" r="4.20"/><circle cx="1137.3" cy="553.1" r="3.44"/><circle cx="1136.1" cy="555.8" r="4.20"/><circle cx="1138.2" cy="554.6" r="3.44"/><circle cx="1141.0" cy="547.3" r="4.20"/><circle cx="1142.5" cy="549.4" r="3.44"/><circle cx="1144.3" cy="549.1" r="3.44"/><circle cx="1140.7" cy="550.3" r="3.44"/><circle cx="1144.0" cy="551.5" r="4.20"/><circle cx="1146.5" cy="553.7" r="3.44"/><circle cx="1147.7" cy="550.9" r="4.20"/><circle cx="1148.3" cy="553.4" r="3.44"/><circle cx="1144.0" cy="552.2" r="3.44"/><circle cx="1148.9" cy="555.8" r="4.20"/><circle cx="1140.4" cy="553.4" r="4.20"/></g>
<g fill="#5ec962"><circle cx="1175.7" cy="605.5" r="4.20"/><circle cx="1172.1" cy="604.9" r="3.44"/><circle cx="1173.3" cy="607.0" r="3.44"/><circle cx="1178.7" cy="605.5" r="3.44"/><circle cx="1177.8" cy="607.3" r="3.44"/><circle cx="1178.1" cy="618.1" r="4.20"/><circle cx="1180.5" cy="616.9" r="3.44"/><circle cx="1175.1" cy="618.4" r="3.44"/><circle cx="1168.2" cy="598.3" r="4.20"/><circle cx="1168.3" cy="601.3" r="3.44"/><circle cx="1184.1" cy="600.7" r="4.20"/><circle cx="1182.9" cy="603.1" r="3.44"/><circle cx="1154.7" cy="607.3" r="4.20"/><circle cx="1157.1" cy="607.6" r="3.44"/><circle cx="1159.5" cy="607.9" r="4.20"/><circle cx="1161.9" cy="607.6" r="3.44"/><circle cx="1162.5" cy="609.4" r="3.44"/><circle cx="1164.3" cy="607.3" r="4.20"/><circle cx="1166.4" cy="605.8" r="3.44"/><circle cx="1167.6" cy="607.9" r="3.44"/><circle cx="1166.4" cy="610.3" r="3.44"/><circle cx="1168.5" cy="604.3" r="4.20"/><circle cx="1169.7" cy="606.4" r="3.44"/><circle cx="1167.0" cy="607.6" r="3.44"/><circle cx="1170.9" cy="608.5" r="4.20"/><circle cx="1169.7" cy="610.9" r="3.44"/><circle cx="1168.2" cy="609.7" r="3.44"/><circle cx="1181.7" cy="605.5" r="4.20"/><circle cx="1186.5" cy="612.1" r="4.20"/><circle cx="1184.7" cy="613.9" r="3.44"/><circle cx="1183.2" cy="610.6" r="3.44"/><circle cx="1182.9" cy="615.7" r="4.20"/><circle cx="1179.9" cy="617.8" r="3.44"/><circle cx="1181.4" cy="612.4" r="3.44"/><circle cx="1168.5" cy="613.3" r="4.20"/><circle cx="1170.3" cy="616.0" r="3.44"/><circle cx="1172.1" cy="618.7" r="4.20"/><circle cx="1174.5" cy="619.3" r="3.44"/><circle cx="1176.9" cy="619.9" r="4.20"/><circle cx="1160.1" cy="624.7" r="4.20"/><circle cx="1179.9" cy="609.1" r="4.20"/><circle cx="1165.5" cy="610.9" r="4.20"/></g>
<g fill="#fde725"><circle cx="1229.7" cy="592.3" r="4.20"/><circle cx="1233.9" cy="594.1" r="4.20"/><circle cx="1238.1" cy="595.3" r="4.20"/><circle cx="1240.5" cy="593.8" r="3.44"/><circle cx="1240.8" cy="595.9" r="3.44"/><circle cx="1240.8" cy="597.7" r="3.44"/><circle cx="1242.9" cy="592.3" r="4.20"/><circle cx="1243.5" cy="596.5" r="4.20"/><circle cx="1243.5" cy="600.1" r="4.20"/><circle cx="1253.8" cy="621.1" r="4.20"/><circle cx="1256.8" cy="623.5" r="3.44"/><circle cx="1258.0" cy="622.3" r="4.20"/><circle cx="1262.2" cy="623.5" r="4.20"/><circle cx="1259.8" cy="625.9" r="4.20"/></g>
<g fill="#440154"><circle cx="971.8" cy="598.6" r="4.20"/><circle cx="972.1" cy="601.0" r="3.44"/><circle cx="969.4" cy="602.3" r="4.20"/><circle cx="965.1" cy="603.5" r="4.20"/><circle cx="968.8" cy="603.5" r="3.44"/><circle cx="972.4" cy="603.5" r="4.20"/><circle cx="946.6" cy="603.5" r="4.20"/><circle cx="947.6" cy="606.2" r="3.44"/><circle cx="945.0" cy="607.1" r="4.20"/><circle cx="946.5" cy="610.2" r="3.44"/><circle cx="948.6" cy="609.0" r="4.20"/><circle cx="951.7" cy="611.4" r="4.20"/><circle cx="955.3" cy="613.3" r="4.20"/><circle cx="957.8" cy="613.6" r="3.44"/><circle cx="951.7" cy="613.3" r="3.44"/><circle cx="960.2" cy="613.9" r="4.20"/><circle cx="962.7" cy="614.2" r="3.44"/><circle cx="965.1" cy="614.5" r="4.20"/><circle cx="948.0" cy="613.3" r="4.20"/><circle cx="961.4" cy="627.3" r="4.20"/><circle cx="959.3" cy="628.2" r="3.44"/><circle cx="957.2" cy="629.1" r="4.20"/><circle cx="956.3" cy="632.5" r="3.44"/><circle cx="953.5" cy="631.6" r="4.20"/><circle cx="950.8" cy="632.2" r="3.44"/><circle cx="954.4" cy="633.7" r="3.44"/><circle cx="948.0" cy="632.8" r="4.20"/><circle cx="945.0" cy="633.4" r="3.44"/><circle cx="946.2" cy="635.2" r="3.44"/><circle cx="941.9" cy="634.0" r="4.20"/><circle cx="944.4" cy="637.7" r="4.20"/><circle cx="945.9" cy="639.8" r="3.44"/><circle cx="955.3" cy="635.8" r="4.20"/><circle cx="957.8" cy="638.3" r="3.44"/><circle cx="960.2" cy="640.7" r="4.20"/><circle cx="958.4" cy="642.6" r="3.44"/><circle cx="947.4" cy="641.9" r="4.20"/><circle cx="948.3" cy="644.4" r="3.44"/><circle cx="956.6" cy="644.4" r="4.20"/><circle cx="952.9" cy="645.6" r="3.44"/><circle cx="949.2" cy="646.8" r="4.20"/><circle cx="951.7" cy="647.4" r="3.44"/><circle cx="954.1" cy="648.1" r="4.20"/><circle cx="956.0" cy="650.8" r="3.44"/><circle cx="952.9" cy="651.4" r="3.44"/><circle cx="957.8" cy="653.5" r="4.20"/><circle cx="954.7" cy="654.2" r="3.44"/><circle cx="951.7" cy="654.8" r="4.20"/><circle cx="950.5" cy="657.2" r="4.20"/><circle cx="1007.2" cy="622.4" r="4.20"/><circle cx="1003.6" cy="624.9" r="4.20"/><circle cx="999.9" cy="626.7" r="4.20"/><circle cx="1020.7" cy="626.7" r="4.20"/><circle cx="1019.4" cy="630.3" r="4.20"/><circle cx="1018.2" cy="634.6" r="4.20"/><circle cx="1006.6" cy="639.5" r="4.20"/><circle cx="1006.4" cy="643.2" r="4.20"/><circle cx="872.6" cy="656.4" r="4.20"/><circle cx="893.7" cy="663.3" r="4.20"/><circle cx="890.3" cy="665.1" r="3.44"/><circle cx="887.0" cy="667.0" r="4.20"/><circle cx="884.5" cy="668.8" r="3.44"/><circle cx="882.1" cy="670.6" r="4.20"/><circle cx="879.9" cy="672.5" r="3.44"/><circle cx="877.8" cy="674.3" r="4.20"/><circle cx="876.0" cy="676.4" r="3.44"/><circle cx="874.1" cy="678.6" r="4.20"/><circle cx="910.8" cy="652.3" r="4.20"/><circle cx="910.2" cy="655.1" r="3.44"/><circle cx="909.6" cy="657.8" r="4.20"/><circle cx="911.1" cy="660.0" r="3.44"/><circle cx="912.6" cy="662.1" r="4.20"/><circle cx="914.4" cy="663.6" r="3.44"/><circle cx="916.3" cy="665.1" r="4.20"/><circle cx="919.3" cy="666.1" r="3.44"/><circle cx="922.4" cy="667.0" r="4.20"/><circle cx="908.3" cy="655.4" r="4.20"/><circle cx="971.8" cy="658.4" r="4.20"/><circle cx="973.7" cy="660.3" r="4.20"/><circle cx="988.3" cy="656.6" r="4.20"/><circle cx="942.5" cy="665.1" r="4.20"/><circle cx="945.0" cy="665.8" r="3.44"/><circle cx="947.4" cy="666.4" r="4.20"/><circle cx="950.2" cy="666.4" r="3.44"/><circle cx="947.7" cy="668.8" r="3.44"/><circle cx="952.9" cy="666.4" r="4.20"/><circle cx="955.6" cy="665.4" r="3.44"/><circle cx="956.3" cy="667.6" r="3.44"/><circle cx="950.5" cy="668.8" r="3.44"/><circle cx="958.4" cy="664.5" r="4.20"/><circle cx="959.3" cy="668.2" r="3.44"/><circle cx="959.6" cy="668.8" r="4.20"/><circle cx="960.2" cy="671.9" r="4.20"/><circle cx="948.0" cy="671.2" r="4.20"/><circle cx="946.5" cy="673.1" r="3.44"/><circle cx="945.0" cy="674.9" r="4.20"/><circle cx="942.5" cy="678.0" r="4.20"/><circle cx="944.4" cy="681.0" r="3.44"/><circle cx="946.2" cy="684.1" r="4.20"/><circle cx="949.8" cy="685.0" r="3.44"/><circle cx="957.2" cy="682.2" r="4.20"/><circle cx="955.3" cy="684.1" r="3.44"/><circle cx="957.5" cy="685.3" r="3.44"/><circle cx="953.5" cy="685.9" r="4.20"/><circle cx="955.6" cy="687.1" r="3.44"/><circle cx="957.8" cy="688.3" r="4.20"/><circle cx="958.4" cy="690.8" r="3.44"/><circle cx="956.9" cy="691.7" r="3.44"/><circle cx="959.0" cy="693.2" r="4.20"/><circle cx="976.7" cy="684.1" r="4.20"/><circle cx="974.9" cy="686.2" r="3.44"/><circle cx="973.0" cy="688.3" r="4.20"/><circle cx="975.8" cy="690.8" r="3.44"/><circle cx="974.6" cy="691.4" r="3.44"/><circle cx="973.7" cy="692.0" r="4.20"/><circle cx="976.1" cy="692.6" r="3.44"/><circle cx="972.4" cy="694.5" r="3.44"/><circle cx="978.5" cy="693.2" r="4.20"/><circle cx="981.0" cy="695.3" r="3.44"/><circle cx="1017.0" cy="680.4" r="4.20"/><circle cx="1015.2" cy="682.8" r="3.44"/><circle cx="1013.3" cy="685.3" r="4.20"/><circle cx="1014.9" cy="688.0" r="3.44"/><circle cx="1016.4" cy="690.8" r="4.20"/><circle cx="1018.8" cy="690.5" r="3.44"/><circle cx="1017.3" cy="694.5" r="3.44"/><circle cx="1021.3" cy="690.2" r="4.20"/><circle cx="1018.2" cy="689.3" r="3.44"/><circle cx="1019.4" cy="692.6" r="3.44"/><circle cx="1015.2" cy="688.3" r="4.20"/><circle cx="1016.4" cy="691.7" r="3.44"/><circle cx="1038.4" cy="693.2" r="4.20"/><circle cx="1035.9" cy="695.7" r="3.44"/><circle cx="1037.8" cy="696.9" r="3.44"/><circle cx="1039.6" cy="695.4" r="3.44"/></g>
<g fill="#5ec962"><circle cx="1067.7" cy="673.1" r="4.20"/></g>
<g fill="#440154"><circle cx="1053.0" cy="632.2" r="4.20"/><circle cx="1052.1" cy="634.6" r="3.44"/><circle cx="1054.9" cy="634.0" r="3.44"/><circle cx="1051.2" cy="637.1" r="4.20"/><circle cx="1053.9" cy="636.5" r="3.44"/><circle cx="1051.5" cy="639.8" r="3.44"/><circle cx="1056.7" cy="635.8" r="4.20"/><circle cx="1059.1" cy="637.4" r="3.44"/><circle cx="1061.6" cy="638.9" r="4.20"/><circle cx="1059.1" cy="641.6" r="3.44"/><circle cx="1051.8" cy="642.6" r="4.20"/><circle cx="1054.2" cy="643.5" r="3.44"/><circle cx="1056.7" cy="644.4" r="4.20"/><circle cx="1053.0" cy="646.8" r="4.20"/><circle cx="1026.2" cy="644.4" r="4.20"/><circle cx="1028.6" cy="645.6" r="3.44"/><circle cx="1031.0" cy="646.8" r="4.20"/><circle cx="1032.9" cy="648.7" r="3.44"/><circle cx="1034.7" cy="650.5" r="4.20"/><circle cx="1036.5" cy="652.0" r="3.44"/><circle cx="1038.4" cy="653.5" r="4.20"/><circle cx="1041.7" cy="652.9" r="3.44"/><circle cx="1040.2" cy="655.7" r="3.44"/><circle cx="1037.8" cy="656.9" r="3.44"/><circle cx="1045.1" cy="652.3" r="4.20"/><circle cx="1043.6" cy="655.1" r="3.44"/><circle cx="1042.0" cy="657.8" r="4.20"/><circle cx="1039.6" cy="659.0" r="3.44"/><circle cx="1040.8" cy="661.5" r="3.44"/><circle cx="1037.2" cy="660.3" r="4.20"/><circle cx="1040.8" cy="660.3" r="3.44"/><circle cx="1035.9" cy="662.7" r="3.44"/><circle cx="1038.4" cy="662.7" r="3.44"/><circle cx="1044.5" cy="660.3" r="4.20"/><circle cx="1042.0" cy="662.7" r="3.44"/><circle cx="1034.7" cy="665.1" r="4.20"/><circle cx="1037.2" cy="665.1" r="3.44"/><circle cx="1034.1" cy="668.2" r="3.44"/><circle cx="1039.6" cy="665.1" r="4.20"/><circle cx="1042.6" cy="668.2" r="4.20"/><circle cx="1033.5" cy="671.2" r="4.20"/><circle cx="1033.8" cy="673.7" r="3.44"/><circle cx="1034.1" cy="676.1" r="4.20"/><circle cx="1034.4" cy="678.6" r="3.44"/><circle cx="1031.7" cy="677.0" r="3.44"/><circle cx="1034.7" cy="681.0" r="4.20"/><circle cx="1032.0" cy="679.5" r="3.44"/><circle cx="1029.2" cy="678.0" r="4.20"/><circle cx="1047.5" cy="674.9" r="4.20"/><circle cx="1050.6" cy="672.5" r="4.20"/><circle cx="1053.3" cy="672.8" r="3.44"/><circle cx="1056.1" cy="673.1" r="4.20"/><circle cx="1064.0" cy="677.4" r="4.20"/><circle cx="1062.2" cy="680.7" r="3.44"/><circle cx="1060.3" cy="684.1" r="4.20"/><circle cx="1067.7" cy="681.0" r="4.20"/><circle cx="1071.4" cy="623.0" r="4.20"/><circle cx="1068.9" cy="624.5" r="3.44"/><circle cx="1072.9" cy="626.1" r="3.44"/><circle cx="1066.5" cy="626.1" r="4.20"/><circle cx="1074.4" cy="629.1" r="4.20"/><circle cx="1074.1" cy="631.9" r="3.44"/><circle cx="1078.1" cy="630.3" r="4.20"/><circle cx="1075.9" cy="632.5" r="3.44"/><circle cx="1073.8" cy="634.6" r="4.20"/><circle cx="1083.6" cy="638.3" r="4.20"/><circle cx="1081.4" cy="639.5" r="3.44"/><circle cx="1085.1" cy="640.7" r="3.44"/><circle cx="1079.3" cy="640.7" r="4.20"/><circle cx="1083.0" cy="641.9" r="3.44"/><circle cx="1079.9" cy="643.8" r="3.44"/><circle cx="1086.6" cy="643.2" r="4.20"/><circle cx="1083.6" cy="645.0" r="3.44"/><circle cx="1080.5" cy="646.8" r="4.20"/><circle cx="1080.5" cy="649.3" r="3.44"/><circle cx="1080.5" cy="651.7" r="4.20"/><circle cx="1110.4" cy="651.7" r="4.20"/><circle cx="1108.3" cy="653.5" r="3.44"/><circle cx="1112.6" cy="653.8" r="3.44"/><circle cx="1106.2" cy="655.4" r="4.20"/><circle cx="1105.3" cy="657.8" r="3.44"/><circle cx="1108.0" cy="658.1" r="3.44"/><circle cx="1114.7" cy="656.0" r="4.20"/><circle cx="1112.3" cy="658.4" r="3.44"/><circle cx="1115.6" cy="658.7" r="3.44"/><circle cx="1104.3" cy="660.3" r="4.20"/><circle cx="1107.1" cy="660.6" r="3.44"/><circle cx="1103.1" cy="663.9" r="3.44"/><circle cx="1109.8" cy="660.9" r="4.20"/><circle cx="1113.2" cy="661.2" r="3.44"/><circle cx="1107.7" cy="662.4" r="3.44"/><circle cx="1116.5" cy="661.5" r="4.20"/><circle cx="1119.9" cy="661.2" r="3.44"/><circle cx="1118.7" cy="663.6" r="3.44"/><circle cx="1123.3" cy="660.9" r="4.20"/><circle cx="1122.0" cy="663.3" r="3.44"/><circle cx="1120.8" cy="665.8" r="4.20"/><circle cx="1101.9" cy="667.6" r="4.20"/><circle cx="1103.7" cy="665.8" r="3.44"/><circle cx="1105.6" cy="663.9" r="4.20"/><circle cx="1096.4" cy="681.0" r="4.20"/><circle cx="1094.3" cy="683.2" r="3.44"/><circle cx="1092.1" cy="685.3" r="4.20"/><circle cx="1060.4" cy="693.2" r="4.20"/><circle cx="1062.2" cy="695.4" r="3.44"/><circle cx="1068.3" cy="694.9" r="4.20"/><circle cx="1066.2" cy="696.2" r="3.44"/></g>
<g fill="#21918c"><circle cx="1203.2" cy="665.8" r="4.20"/><circle cx="1206.0" cy="666.7" r="3.44"/><circle cx="1208.7" cy="667.6" r="4.20"/><circle cx="1211.5" cy="668.8" r="3.44"/><circle cx="1208.4" cy="670.0" r="3.44"/><circle cx="1214.2" cy="670.0" r="4.20"/><circle cx="1211.2" cy="671.2" r="3.44"/><circle cx="1208.1" cy="672.5" r="4.20"/><circle cx="1207.5" cy="676.1" r="4.20"/><circle cx="1199.6" cy="678.6" r="4.20"/><circle cx="1195.9" cy="679.2" r="3.44"/><circle cx="1197.7" cy="680.4" r="3.44"/><circle cx="1192.2" cy="679.8" r="4.20"/><circle cx="1191.9" cy="682.8" r="3.44"/><circle cx="1195.9" cy="682.2" r="4.20"/><circle cx="1193.8" cy="684.1" r="3.44"/><circle cx="1178.2" cy="683.5" r="4.20"/><circle cx="1181.0" cy="684.4" r="3.44"/><circle cx="1183.7" cy="685.3" r="4.20"/><circle cx="1185.5" cy="687.4" r="3.44"/><circle cx="1191.6" cy="685.9" r="4.20"/><circle cx="1189.5" cy="687.7" r="3.44"/><circle cx="1187.4" cy="689.6" r="4.20"/><circle cx="1212.4" cy="690.8" r="4.20"/><circle cx="1185.5" cy="693.2" r="4.20"/><circle cx="1210.0" cy="694.4" r="4.20"/></g>
<g fill="#440154"><circle cx="925.4" cy="698.2" r="4.20"/><circle cx="929.1" cy="696.9" r="4.20"/><circle cx="956.0" cy="695.1" r="4.20"/><circle cx="971.2" cy="696.9" r="4.20"/><circle cx="973.7" cy="695.7" r="3.44"/><circle cx="976.1" cy="694.5" r="4.20"/><circle cx="983.4" cy="697.3" r="4.20"/><circle cx="1017.6" cy="695.1" r="4.20"/><circle cx="1018.2" cy="698.2" r="4.20"/><circle cx="1039.0" cy="693.9" r="4.20"/><circle cx="1036.2" cy="696.0" r="3.44"/><circle cx="1038.1" cy="697.2" r="3.44"/><circle cx="1033.5" cy="698.2" r="4.20"/><circle cx="1034.4" cy="701.2" r="3.44"/><circle cx="1037.2" cy="697.9" r="3.44"/><circle cx="1037.2" cy="700.6" r="4.20"/><circle cx="1039.0" cy="699.1" r="3.44"/><circle cx="1035.3" cy="704.3" r="4.20"/><circle cx="1040.8" cy="697.5" r="4.20"/><circle cx="1060.3" cy="695.7" r="4.20"/><circle cx="1064.0" cy="697.5" r="4.20"/><circle cx="1066.5" cy="697.5" r="3.44"/><circle cx="1068.9" cy="697.5" r="4.20"/><circle cx="1053.0" cy="700.6" r="4.20"/><circle cx="1050.6" cy="702.4" r="3.44"/><circle cx="1053.0" cy="704.3" r="3.44"/><circle cx="1048.1" cy="704.3" r="4.20"/><circle cx="1050.6" cy="706.1" r="3.44"/><circle cx="1053.0" cy="707.9" r="4.20"/><circle cx="1054.9" cy="709.5" r="3.44"/><circle cx="1056.7" cy="711.0" r="4.20"/><circle cx="1029.8" cy="711.6" r="4.20"/><circle cx="1033.2" cy="711.9" r="3.44"/><circle cx="1031.7" cy="714.0" r="3.44"/><circle cx="1036.5" cy="712.2" r="4.20"/><circle cx="1035.0" cy="714.3" r="3.44"/><circle cx="1033.5" cy="716.5" r="4.20"/><circle cx="1032.9" cy="720.7" r="4.20"/><circle cx="1032.0" cy="722.9" r="3.44"/><circle cx="1031.0" cy="725.0" r="4.20"/><circle cx="1039.6" cy="729.9" r="4.20"/><circle cx="1036.5" cy="732.3" r="4.20"/><circle cx="1044.5" cy="736.0" r="4.20"/><circle cx="1043.9" cy="740.3" r="4.20"/><circle cx="1011.5" cy="712.8" r="4.20"/><circle cx="1015.2" cy="713.7" r="3.44"/><circle cx="1018.8" cy="714.6" r="4.20"/><circle cx="1014.6" cy="715.3" r="4.20"/><circle cx="1001.1" cy="721.0" r="4.20"/><circle cx="1004.2" cy="721.2" r="3.44"/><circle cx="1007.2" cy="721.4" r="4.20"/><circle cx="988.9" cy="728.1" r="4.20"/><circle cx="989.1" cy="730.8" r="3.44"/><circle cx="989.3" cy="733.6" r="4.20"/></g>
<g fill="#21918c"><circle cx="1035.9" cy="777.2" r="4.20"/><circle cx="1043.9" cy="781.8" r="4.20"/><circle cx="1057.3" cy="781.8" r="4.20"/></g>
<g fill="#440154"><circle cx="1045.1" cy="772.0" r="4.20"/><circle cx="1042.6" cy="774.2" r="3.44"/><circle cx="1040.2" cy="776.3" r="4.20"/><circle cx="1044.5" cy="778.1" r="4.20"/><circle cx="1052.4" cy="781.2" r="4.20"/><circle cx="1195.3" cy="745.8" r="4.20"/></g>
<g fill="#21918c"><circle cx="1203.8" cy="701.2" r="4.20"/><circle cx="1202.6" cy="703.7" r="3.44"/><circle cx="1205.7" cy="704.6" r="3.44"/><circle cx="1201.4" cy="706.1" r="4.20"/><circle cx="1204.5" cy="707.0" r="3.44"/><circle cx="1207.5" cy="707.9" r="4.20"/><circle cx="1209.6" cy="710.1" r="3.44"/><circle cx="1211.8" cy="712.2" r="4.20"/><circle cx="1212.7" cy="715.3" r="3.44"/><circle cx="1216.1" cy="713.4" r="4.20"/><circle cx="1218.5" cy="714.3" r="3.44"/><circle cx="1214.8" cy="715.9" r="3.44"/><circle cx="1220.9" cy="715.3" r="4.20"/><circle cx="1213.6" cy="718.3" r="4.20"/><circle cx="1215.4" cy="721.7" r="3.44"/><circle cx="1206.3" cy="724.4" r="4.20"/><circle cx="1208.7" cy="723.2" r="3.44"/><circle cx="1211.2" cy="722.0" r="4.20"/><circle cx="1214.2" cy="723.5" r="3.44"/><circle cx="1217.3" cy="725.0" r="4.20"/><circle cx="1216.4" cy="727.8" r="3.44"/><circle cx="1218.5" cy="728.1" r="4.20"/><circle cx="1215.4" cy="730.5" r="4.20"/><circle cx="1186.1" cy="713.4" r="4.20"/><circle cx="1187.1" cy="715.9" r="3.44"/><circle cx="1188.0" cy="718.3" r="4.20"/><circle cx="1191.6" cy="718.6" r="3.44"/><circle cx="1189.8" cy="720.1" r="3.44"/><circle cx="1186.8" cy="721.1" r="3.44"/><circle cx="1199.6" cy="715.3" r="4.20"/><circle cx="1197.4" cy="717.1" r="3.44"/><circle cx="1195.3" cy="718.9" r="4.20"/><circle cx="1193.5" cy="720.4" r="3.44"/><circle cx="1191.6" cy="722.0" r="4.20"/><circle cx="1188.6" cy="722.9" r="3.44"/><circle cx="1191.0" cy="724.4" r="3.44"/><circle cx="1180.6" cy="724.4" r="4.20"/><circle cx="1183.1" cy="724.1" r="3.44"/><circle cx="1185.5" cy="723.8" r="4.20"/><circle cx="1188.0" cy="725.3" r="3.44"/><circle cx="1190.4" cy="726.9" r="4.20"/><circle cx="1193.2" cy="729.3" r="3.44"/><circle cx="1195.9" cy="731.7" r="4.20"/><circle cx="1126.3" cy="711.0" r="4.20"/><circle cx="1127.5" cy="713.1" r="3.44"/><circle cx="1128.8" cy="715.3" r="4.20"/><circle cx="1130.3" cy="717.4" r="3.44"/><circle cx="1131.8" cy="719.5" r="4.20"/><circle cx="1135.5" cy="721.4" r="4.20"/><circle cx="1137.6" cy="719.5" r="3.44"/><circle cx="1139.7" cy="717.7" r="4.20"/><circle cx="1142.5" cy="716.2" r="3.44"/><circle cx="1145.2" cy="714.6" r="4.20"/><circle cx="1146.5" cy="717.1" r="3.44"/><circle cx="1151.3" cy="705.5" r="4.20"/><circle cx="1151.6" cy="707.9" r="3.44"/><circle cx="1152.0" cy="710.4" r="4.20"/><circle cx="1154.4" cy="711.3" r="3.44"/><circle cx="1156.8" cy="712.2" r="4.20"/><circle cx="1147.7" cy="719.5" r="4.20"/><circle cx="1148.9" cy="722.3" r="3.44"/><circle cx="1150.1" cy="725.0" r="4.20"/><circle cx="1149.8" cy="727.5" r="3.44"/><circle cx="1149.5" cy="729.9" r="4.20"/><circle cx="1152.9" cy="730.8" r="3.44"/><circle cx="1156.2" cy="731.7" r="4.20"/><circle cx="1157.8" cy="733.9" r="3.44"/><circle cx="1159.3" cy="736.0" r="4.20"/><circle cx="1161.7" cy="736.6" r="3.44"/><circle cx="1159.9" cy="739.1" r="4.20"/><circle cx="1162.0" cy="738.1" r="3.44"/><circle cx="1164.2" cy="737.2" r="4.20"/><circle cx="1166.6" cy="738.1" r="3.44"/><circle cx="1169.0" cy="739.1" r="4.20"/><circle cx="1171.5" cy="739.4" r="3.44"/><circle cx="1173.9" cy="739.7" r="4.20"/><circle cx="1176.1" cy="740.6" r="3.44"/><circle cx="1178.2" cy="741.5" r="4.20"/><circle cx="1180.3" cy="738.8" r="3.44"/><circle cx="1181.3" cy="742.1" r="3.44"/><circle cx="1182.5" cy="736.0" r="4.20"/><circle cx="1185.2" cy="737.8" r="3.44"/><circle cx="1183.4" cy="739.4" r="3.44"/><circle cx="1186.1" cy="734.8" r="4.20"/><circle cx="1187.1" cy="737.2" r="3.44"/><circle cx="1188.0" cy="739.7" r="4.20"/><circle cx="1186.1" cy="741.2" r="3.44"/><circle cx="1184.3" cy="742.7" r="4.20"/><circle cx="1187.4" cy="743.0" r="3.44"/><circle cx="1190.4" cy="743.3" r="4.20"/><circle cx="1142.2" cy="745.8" r="4.20"/><circle cx="1140.7" cy="747.6" r="3.44"/><circle cx="1139.1" cy="749.4" r="4.20"/><circle cx="1137.3" cy="751.0" r="3.44"/><circle cx="1140.0" cy="751.6" r="3.44"/><circle cx="1124.5" cy="753.1" r="4.20"/><circle cx="1127.5" cy="753.1" r="3.44"/><circle cx="1130.6" cy="753.1" r="4.20"/><circle cx="1133.0" cy="752.8" r="3.44"/><circle cx="1135.5" cy="752.5" r="4.20"/><circle cx="1138.2" cy="753.1" r="3.44"/><circle cx="1141.0" cy="753.7" r="4.20"/><circle cx="1144.0" cy="756.8" r="4.20"/><circle cx="1147.1" cy="755.8" r="3.44"/><circle cx="1150.1" cy="754.9" r="4.20"/><circle cx="1152.9" cy="754.9" r="3.44"/><circle cx="1155.6" cy="754.9" r="4.20"/><circle cx="1158.1" cy="754.6" r="3.44"/><circle cx="1160.5" cy="754.3" r="4.20"/><circle cx="1163.2" cy="753.7" r="3.44"/><circle cx="1166.0" cy="753.1" r="4.20"/></g>
<g fill="#440154"><circle cx="1121.4" cy="770.6" r="4.20"/></g>
<g fill="#21918c"><circle cx="1112.3" cy="758.6" r="4.20"/><circle cx="1110.1" cy="759.8" r="3.44"/><circle cx="1108.0" cy="761.0" r="4.20"/><circle cx="1098.2" cy="765.9" r="4.20"/><circle cx="1097.6" cy="769.3" r="3.44"/><circle cx="1100.4" cy="768.4" r="3.44"/><circle cx="1086.0" cy="772.0" r="4.20"/><circle cx="1088.8" cy="772.0" r="3.44"/><circle cx="1085.1" cy="775.4" r="3.44"/><circle cx="1091.5" cy="772.0" r="4.20"/><circle cx="1094.3" cy="772.3" r="3.44"/><circle cx="1097.0" cy="772.6" r="4.20"/><circle cx="1099.8" cy="771.7" r="3.44"/><circle cx="1102.5" cy="770.8" r="4.20"/><circle cx="1084.2" cy="778.7" r="4.20"/><circle cx="1112.3" cy="771.4" r="4.20"/><circle cx="1117.2" cy="771.1" r="4.20"/><circle cx="1133.0" cy="766.5" r="4.20"/><circle cx="1131.2" cy="768.4" r="4.20"/><circle cx="1128.8" cy="789.1" r="4.20"/><circle cx="1131.8" cy="788.5" r="4.20"/></g>
<g fill="#440154"><circle cx="1071.7" cy="771.1" r="4.20"/><circle cx="1075.4" cy="772.3" r="4.20"/></g>
</g>
<path d="M883.7 804.5v4.8M932.4 804.5v4.8M981.1 804.5v4.8M1029.8 804.5v4.8M1078.5 804.5v4.8M1127.2 804.5v4.8M1175.9 804.5v4.8M1224.6 804.5v4.8M1273.3 804.5v4.8M853.7 485.7h-4.8M853.7 528.9h-4.8M853.7 572.1h-4.8M853.7 615.3h-4.8M853.7 658.5h-4.8M853.7 701.7h-4.8M853.7 744.9h-4.8M853.7 788.1h-4.8" class="tick"/>
<rect x="853.7" y="485.1" width="430.1" height="319.4" class="frame"/>
<g class="tl" font-size="19.4">
<text transform="translate(883.0 826.9) scale(0.92 1)" text-anchor="middle">−80</text>
<text transform="translate(931.7 826.9) scale(0.92 1)" text-anchor="middle">−60</text>
<text transform="translate(980.4 826.9) scale(0.92 1)" text-anchor="middle">−40</text>
<text transform="translate(1029.1 826.9) scale(0.92 1)" text-anchor="middle">−20</text>
<text transform="translate(1077.8 826.9) scale(0.92 1)" text-anchor="middle">0</text>
<text transform="translate(1126.5 826.9) scale(0.92 1)" text-anchor="middle">20</text>
<text transform="translate(1175.2 826.9) scale(0.92 1)" text-anchor="middle">40</text>
<text transform="translate(1223.9 826.9) scale(0.92 1)" text-anchor="middle">60</text>
<text transform="translate(1272.6 826.9) scale(0.92 1)" text-anchor="middle">80</text>
<text transform="translate(844.4 492.3) scale(0.92 1)" text-anchor="end">80</text>
<text transform="translate(844.4 535.5) scale(0.92 1)" text-anchor="end">60</text>
<text transform="translate(844.4 578.7) scale(0.92 1)" text-anchor="end">40</text>
<text transform="translate(844.4 621.9) scale(0.92 1)" text-anchor="end">20</text>
<text transform="translate(844.4 665.1) scale(0.92 1)" text-anchor="end">0</text>
<text transform="translate(844.4 708.3) scale(0.92 1)" text-anchor="end">-20</text>
<text transform="translate(844.4 751.5) scale(0.92 1)" text-anchor="end">-40</text>
<text transform="translate(844.4 794.7) scale(0.92 1)" text-anchor="end">-60</text>
</g></g>
<g class="cap">
<text x="534" y="453" text-anchor="middle">(a) Randomly Initialized Model</text>
<text x="1058" y="453" text-anchor="middle">(b) Randomly Initialized + Finetuned Model</text>
<text x="535" y="871.6" text-anchor="middle">(c) Pretrained Model</text>
<text x="1059" y="865" text-anchor="middle">(d) Pretrained + Finetuned Model</text>
</g>
<g class="lab">
<text transform="translate(1001.17 509.5) scale(1.08 1)" fill="#3b528b" stroke="#3b528b">PCG</text>
<text transform="translate(887.94 593.4) scale(1.1342 1)" fill="#440154" stroke="#440154">IC</text>
<text transform="translate(1123.12 593.6) scale(1.0844 1)" fill="#5ec962" stroke="#5ec962">PB</text>
<text transform="translate(1229.99 573.1) scale(1.1189 1)" fill="#fbbc14" stroke="#fbbc14">NBE</text>
<text transform="translate(1200.61 786.8) scale(1.1172 1)" fill="#21918c" stroke="#21918c">NCG</text>
</g>
</svg>
</body></html>
